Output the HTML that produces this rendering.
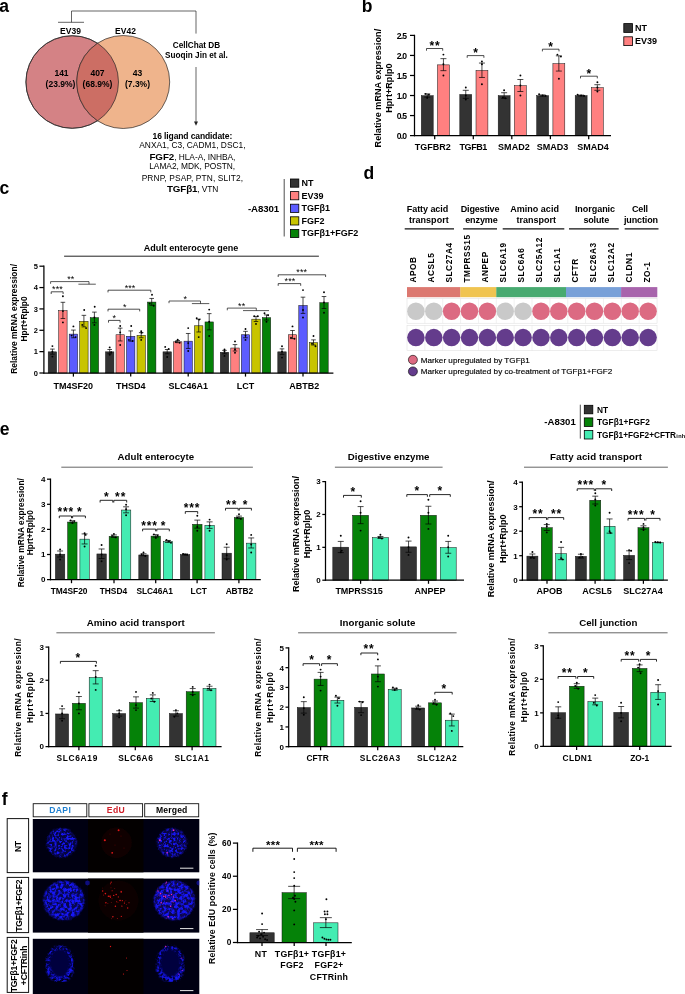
<!DOCTYPE html>
<html><head><meta charset="utf-8"><title>Figure</title>
<style>
html,body{margin:0;padding:0;background:#fff;}
svg{display:block;font-family:"Liberation Sans", Arial, Helvetica, sans-serif;will-change:transform;}
text{font-family:"Liberation Sans", Arial, Helvetica, sans-serif;}
</style></head><body>
<svg width="685" height="994" viewBox="0 0 685 994">
<rect width="685" height="994" fill="#fff"/>
<text x="-0.70" y="12.00" font-size="17.5" font-weight="bold" text-anchor="start" fill="#000" >a</text>
<circle cx="72.2" cy="82.0" r="46.30" fill="#D48285" stroke="#2a2a2a" stroke-width="0.7" />
<circle cx="123.2" cy="82" r="46.5" fill="#EFB48C" stroke="#2a2a2a" stroke-width="0.7"/>
<clipPath id="cl"><circle cx="72.2" cy="82" r="46.3"/></clipPath>
<circle cx="123.2" cy="82" r="46.5" fill="#CC6E64" stroke="#2a2a2a" stroke-width="0.7" clip-path="url(#cl)"/>
<circle cx="72.2" cy="82" r="46.3" fill="none" stroke="#2a2a2a" stroke-width="0.7"/>
<text x="70.50" y="33.60" font-size="8.5" font-weight="bold" text-anchor="middle" fill="#000" >EV39</text>
<text x="125.50" y="33.60" font-size="8.5" font-weight="bold" text-anchor="middle" fill="#000" >EV42</text>
<text x="61.50" y="76.40" font-size="8.5" font-weight="bold" text-anchor="middle" fill="#000" >141</text>
<text x="60.50" y="86.80" font-size="8.5" font-weight="bold" text-anchor="middle" fill="#000" >(23.9%)</text>
<text x="97.50" y="76.40" font-size="8.5" font-weight="bold" text-anchor="middle" fill="#000" >407</text>
<text x="97.50" y="86.80" font-size="8.5" font-weight="bold" text-anchor="middle" fill="#000" >(68.9%)</text>
<text x="137.50" y="76.40" font-size="8.5" font-weight="bold" text-anchor="middle" fill="#000" >43</text>
<text x="137.50" y="86.80" font-size="8.5" font-weight="bold" text-anchor="middle" fill="#000" >(7.3%)</text>
<polyline points="71.50,22.30 71.50,11.00 196.00,11.00 196.00,33.60" fill="none" stroke="#222" stroke-width="0.7"/>
<line x1="58.00" y1="22.30" x2="84.00" y2="22.30" stroke="#222" stroke-width="0.7" />
<text x="196.50" y="47.90" font-size="8.2" font-weight="bold" text-anchor="middle" fill="#000" >CellChat DB</text>
<text x="196.50" y="57.50" font-size="8.2" font-weight="bold" text-anchor="middle" fill="#000" >Suoqin Jin et al.</text>
<line x1="196.00" y1="67.00" x2="196.00" y2="123.00" stroke="#222" stroke-width="0.7" />
<polygon points="194,121.5 198,121.5 196,125.8" fill="#222"/>
<text x="192.40" y="139.20" font-size="8.5" font-weight="bold" text-anchor="middle" fill="#000"  textLength="79.70" lengthAdjust="spacing">16 ligand candidate:</text>
<text x="192.40" y="148.30" font-size="8.4" font-weight="normal" text-anchor="middle" fill="#000"  textLength="106.30" lengthAdjust="spacing">ANXA1, C3, CADM1, DSC1,</text>
<text x="192.4" y="159.7" font-size="8.4" text-anchor="middle" fill="#000" textLength="86" lengthAdjust="spacing"><tspan font-weight="bold" font-size="9.8">FGF2</tspan>, HLA-A, INHBA,</text>
<text x="192.20" y="169.20" font-size="8.4" font-weight="normal" text-anchor="middle" fill="#000"  textLength="86.00" lengthAdjust="spacing">LAMA2, MDK, POSTN,</text>
<text x="192.40" y="180.60" font-size="8.4" font-weight="normal" text-anchor="middle" fill="#000"  textLength="101.50" lengthAdjust="spacing">PRNP, PSAP, PTN, SLIT2,</text>
<text x="192.6" y="192" font-size="8.4" text-anchor="middle" fill="#000" textLength="51.2" lengthAdjust="spacing"><tspan font-weight="bold" font-size="9.8">TGFβ1</tspan>, VTN</text>
<text x="361.80" y="11.90" font-size="17.5" font-weight="bold" text-anchor="start" fill="#000" >b</text>
<rect x="421.30" y="95.72" width="11.90" height="39.88" fill="#333333" stroke="#111" stroke-width="0.5" />
<line x1="427.25" y1="93.92" x2="427.25" y2="97.12" stroke="#000" stroke-width="0.7" />
<line x1="424.25" y1="93.92" x2="430.25" y2="93.92" stroke="#000" stroke-width="0.7" />
<line x1="424.25" y1="97.12" x2="430.25" y2="97.12" stroke="#000" stroke-width="0.7" />
<circle cx="425.6" cy="93.9" r="0.95" />
<circle cx="428.9" cy="94.7" r="0.95" />
<circle cx="427.2" cy="97.9" r="0.95" />
<rect x="437.50" y="64.86" width="11.90" height="70.74" fill="#FF8080" stroke="#111" stroke-width="0.5" />
<line x1="443.45" y1="58.65" x2="443.45" y2="70.67" stroke="#000" stroke-width="0.7" />
<line x1="440.45" y1="58.65" x2="446.45" y2="58.65" stroke="#000" stroke-width="0.7" />
<line x1="440.45" y1="70.67" x2="446.45" y2="70.67" stroke="#000" stroke-width="0.7" />
<circle cx="443.4" cy="54.6" r="0.95" />
<circle cx="443.4" cy="64.3" r="0.95" />
<circle cx="443.4" cy="75.5" r="0.95" />
<text x="432.80" y="150.30" font-size="9" font-weight="bold" text-anchor="middle" fill="#000"  textLength="35.90" lengthAdjust="spacing">TGFBR2</text>
<line x1="434.70" y1="135.60" x2="434.70" y2="139.20" stroke="#000" stroke-width="1.25" />
<rect x="459.80" y="94.52" width="11.90" height="41.08" fill="#333333" stroke="#111" stroke-width="0.5" />
<line x1="465.75" y1="90.31" x2="465.75" y2="98.33" stroke="#000" stroke-width="0.7" />
<line x1="462.75" y1="90.31" x2="468.75" y2="90.31" stroke="#000" stroke-width="0.7" />
<line x1="462.75" y1="98.33" x2="468.75" y2="98.33" stroke="#000" stroke-width="0.7" />
<circle cx="465.8" cy="87.5" r="0.95" />
<circle cx="465.8" cy="99.5" r="0.95" />
<circle cx="465.8" cy="95.5" r="0.95" />
<rect x="476.00" y="70.47" width="11.90" height="65.13" fill="#FF8080" stroke="#111" stroke-width="0.5" />
<line x1="481.95" y1="63.06" x2="481.95" y2="77.48" stroke="#000" stroke-width="0.7" />
<line x1="478.95" y1="63.06" x2="484.95" y2="63.06" stroke="#000" stroke-width="0.7" />
<line x1="478.95" y1="77.48" x2="484.95" y2="77.48" stroke="#000" stroke-width="0.7" />
<circle cx="481.9" cy="61.5" r="0.95" />
<circle cx="481.9" cy="64.3" r="0.95" />
<circle cx="481.9" cy="84.3" r="0.95" />
<text x="473.40" y="150.30" font-size="9" font-weight="bold" text-anchor="middle" fill="#000"  textLength="27.70" lengthAdjust="spacing">TGFB1</text>
<line x1="473.30" y1="135.60" x2="473.30" y2="139.20" stroke="#000" stroke-width="1.25" />
<rect x="498.20" y="95.72" width="11.90" height="39.88" fill="#333333" stroke="#111" stroke-width="0.5" />
<line x1="504.15" y1="92.71" x2="504.15" y2="98.33" stroke="#000" stroke-width="0.7" />
<line x1="501.15" y1="92.71" x2="507.15" y2="92.71" stroke="#000" stroke-width="0.7" />
<line x1="501.15" y1="98.33" x2="507.15" y2="98.33" stroke="#000" stroke-width="0.7" />
<circle cx="504.1" cy="90.3" r="0.95" />
<circle cx="502.9" cy="97.5" r="0.95" />
<circle cx="505.3" cy="98.3" r="0.95" />
<rect x="514.40" y="85.70" width="11.90" height="49.90" fill="#FF8080" stroke="#111" stroke-width="0.5" />
<line x1="520.35" y1="79.49" x2="520.35" y2="91.51" stroke="#000" stroke-width="0.7" />
<line x1="517.35" y1="79.49" x2="523.35" y2="79.49" stroke="#000" stroke-width="0.7" />
<line x1="517.35" y1="91.51" x2="523.35" y2="91.51" stroke="#000" stroke-width="0.7" />
<circle cx="520.4" cy="75.5" r="0.95" />
<circle cx="520.4" cy="85.5" r="0.95" />
<circle cx="520.4" cy="95.5" r="0.95" />
<text x="513.90" y="150.30" font-size="9" font-weight="bold" text-anchor="middle" fill="#000"  textLength="31.90" lengthAdjust="spacing">SMAD2</text>
<line x1="511.80" y1="135.60" x2="511.80" y2="139.20" stroke="#000" stroke-width="1.25" />
<rect x="536.70" y="95.72" width="11.90" height="39.88" fill="#333333" stroke="#111" stroke-width="0.5" />
<line x1="542.65" y1="94.92" x2="542.65" y2="96.12" stroke="#000" stroke-width="0.7" />
<line x1="539.65" y1="94.92" x2="545.65" y2="94.92" stroke="#000" stroke-width="0.7" />
<line x1="539.65" y1="96.12" x2="545.65" y2="96.12" stroke="#000" stroke-width="0.7" />
<circle cx="539.1" cy="94.3" r="0.95" />
<circle cx="542.6" cy="95.5" r="0.95" />
<circle cx="545.6" cy="95.9" r="0.95" />
<rect x="552.90" y="63.66" width="11.90" height="71.94" fill="#FF8080" stroke="#111" stroke-width="0.5" />
<line x1="558.85" y1="55.84" x2="558.85" y2="71.07" stroke="#000" stroke-width="0.7" />
<line x1="555.85" y1="55.84" x2="561.85" y2="55.84" stroke="#000" stroke-width="0.7" />
<line x1="555.85" y1="71.07" x2="561.85" y2="71.07" stroke="#000" stroke-width="0.7" />
<circle cx="557.4" cy="54.6" r="0.95" />
<circle cx="560.9" cy="56.6" r="0.95" />
<circle cx="558.9" cy="78.7" r="0.95" />
<text x="552.60" y="150.30" font-size="9" font-weight="bold" text-anchor="middle" fill="#000"  textLength="31.50" lengthAdjust="spacing">SMAD3</text>
<line x1="550.40" y1="135.60" x2="550.40" y2="139.20" stroke="#000" stroke-width="1.25" />
<rect x="575.20" y="95.72" width="11.90" height="39.88" fill="#333333" stroke="#111" stroke-width="0.5" />
<line x1="581.15" y1="95.12" x2="581.15" y2="95.92" stroke="#000" stroke-width="0.7" />
<line x1="578.15" y1="95.12" x2="584.15" y2="95.12" stroke="#000" stroke-width="0.7" />
<line x1="578.15" y1="95.92" x2="584.15" y2="95.92" stroke="#000" stroke-width="0.7" />
<circle cx="577.6" cy="94.7" r="0.95" />
<circle cx="581.1" cy="95.5" r="0.95" />
<circle cx="584.1" cy="95.9" r="0.95" />
<rect x="591.40" y="87.70" width="11.90" height="47.90" fill="#FF8080" stroke="#111" stroke-width="0.5" />
<line x1="597.35" y1="84.70" x2="597.35" y2="90.31" stroke="#000" stroke-width="0.7" />
<line x1="594.35" y1="84.70" x2="600.35" y2="84.70" stroke="#000" stroke-width="0.7" />
<line x1="594.35" y1="90.31" x2="600.35" y2="90.31" stroke="#000" stroke-width="0.7" />
<circle cx="597.4" cy="82.3" r="0.95" />
<circle cx="597.4" cy="87.5" r="0.95" />
<circle cx="597.4" cy="91.5" r="0.95" />
<text x="593.00" y="150.30" font-size="9" font-weight="bold" text-anchor="middle" fill="#000"  textLength="31.30" lengthAdjust="spacing">SMAD4</text>
<line x1="588.70" y1="135.60" x2="588.70" y2="139.20" stroke="#000" stroke-width="1.25" />
<line x1="414.50" y1="34.77" x2="414.50" y2="136.22" stroke="#000" stroke-width="1.25" />
<line x1="413.88" y1="135.60" x2="611.00" y2="135.60" stroke="#000" stroke-width="1.25" />
<line x1="410.00" y1="135.60" x2="414.50" y2="135.60" stroke="#000" stroke-width="1.25" />
<text x="406.35" y="138.70" font-size="8.6" font-weight="bold" text-anchor="end" fill="#000"  letter-spacing="-0.75">0.0</text>
<line x1="410.00" y1="115.56" x2="414.50" y2="115.56" stroke="#000" stroke-width="1.25" />
<text x="406.35" y="118.66" font-size="8.6" font-weight="bold" text-anchor="end" fill="#000"  letter-spacing="-0.75">0.5</text>
<line x1="410.00" y1="95.52" x2="414.50" y2="95.52" stroke="#000" stroke-width="1.25" />
<text x="406.35" y="98.62" font-size="8.6" font-weight="bold" text-anchor="end" fill="#000"  letter-spacing="-0.75">1.0</text>
<line x1="410.00" y1="75.48" x2="414.50" y2="75.48" stroke="#000" stroke-width="1.25" />
<text x="406.35" y="78.58" font-size="8.6" font-weight="bold" text-anchor="end" fill="#000"  letter-spacing="-0.75">1.5</text>
<line x1="410.00" y1="55.44" x2="414.50" y2="55.44" stroke="#000" stroke-width="1.25" />
<text x="406.35" y="58.54" font-size="8.6" font-weight="bold" text-anchor="end" fill="#000"  letter-spacing="-0.75">2.0</text>
<line x1="410.00" y1="35.40" x2="414.50" y2="35.40" stroke="#000" stroke-width="1.25" />
<text x="406.35" y="38.50" font-size="8.6" font-weight="bold" text-anchor="end" fill="#000"  letter-spacing="-0.75">2.5</text>
<text transform="translate(381.20,88.10) rotate(-90)" font-size="9" font-weight="bold" text-anchor="middle" fill="#000" textLength="118.60" lengthAdjust="spacing">Relative mRNA expression/</text>
<text transform="translate(392.20,88.10) rotate(-90)" font-size="9" font-weight="bold" text-anchor="middle" fill="#000" textLength="49.30" lengthAdjust="spacing">Hprt+Rplp0</text>
<polyline points="426.50,50.70 426.50,48.50 442.70,48.50 442.70,50.70" fill="none" stroke="#000" stroke-width="0.7"/>
<text x="434.95" y="50.00" font-size="12" font-weight="bold" text-anchor="middle" fill="#000"  letter-spacing="0.7">**</text>
<polyline points="467.20,57.80 467.20,55.60 483.90,55.60 483.90,57.80" fill="none" stroke="#000" stroke-width="0.7"/>
<text x="475.90" y="57.10" font-size="12" font-weight="bold" text-anchor="middle" fill="#000"  letter-spacing="0.7">*</text>
<polyline points="542.40,51.40 542.40,49.20 559.00,49.20 559.00,51.40" fill="none" stroke="#000" stroke-width="0.7"/>
<text x="551.05" y="50.70" font-size="12" font-weight="bold" text-anchor="middle" fill="#000"  letter-spacing="0.7">*</text>
<polyline points="580.50,78.40 580.50,76.20 597.30,76.20 597.30,78.40" fill="none" stroke="#000" stroke-width="0.7"/>
<text x="589.25" y="77.70" font-size="12" font-weight="bold" text-anchor="middle" fill="#000"  letter-spacing="0.7">*</text>
<rect x="623.80" y="23.60" width="8.80" height="8.80" fill="#333333" stroke="#000" stroke-width="0.8" />
<rect x="623.80" y="36.80" width="8.80" height="8.80" fill="#FF8080" stroke="#000" stroke-width="0.8" />
<text x="635.00" y="30.90" font-size="9" font-weight="bold" text-anchor="start" fill="#000" >NT</text>
<text x="635.00" y="44.00" font-size="9" font-weight="bold" text-anchor="start" fill="#000" >EV39</text>
<text x="-0.50" y="194.30" font-size="17.5" font-weight="bold" text-anchor="start" fill="#000" >c</text>
<rect x="48.20" y="351.84" width="8.40" height="21.16" fill="#333333" stroke="#111" stroke-width="0.5" />
<line x1="52.40" y1="349.08" x2="52.40" y2="354.20" stroke="#000" stroke-width="0.7" />
<line x1="50.10" y1="349.08" x2="54.70" y2="349.08" stroke="#000" stroke-width="0.7" />
<line x1="50.10" y1="354.20" x2="54.70" y2="354.20" stroke="#000" stroke-width="0.7" />
<circle cx="52.4" cy="346.1" r="0.95" />
<circle cx="52.4" cy="356.6" r="0.95" />
<circle cx="52.4" cy="351.6" r="0.95" />
<rect x="58.70" y="310.62" width="8.40" height="62.38" fill="#FF8080" stroke="#111" stroke-width="0.5" />
<line x1="62.90" y1="302.30" x2="62.90" y2="318.53" stroke="#000" stroke-width="0.7" />
<line x1="60.60" y1="302.30" x2="65.20" y2="302.30" stroke="#000" stroke-width="0.7" />
<line x1="60.60" y1="318.53" x2="65.20" y2="318.53" stroke="#000" stroke-width="0.7" />
<circle cx="62.9" cy="296.3" r="0.95" />
<circle cx="62.9" cy="311.1" r="0.95" />
<circle cx="62.9" cy="322.4" r="0.95" />
<rect x="69.20" y="334.11" width="8.40" height="38.89" fill="#5C5CFF" stroke="#111" stroke-width="0.5" />
<line x1="73.40" y1="330.07" x2="73.40" y2="337.76" stroke="#000" stroke-width="0.7" />
<line x1="71.10" y1="330.07" x2="75.70" y2="330.07" stroke="#000" stroke-width="0.7" />
<line x1="71.10" y1="337.76" x2="75.70" y2="337.76" stroke="#000" stroke-width="0.7" />
<circle cx="73.4" cy="326.4" r="0.95" />
<circle cx="71.6" cy="335.6" r="0.95" />
<circle cx="75.6" cy="337.1" r="0.95" />
<rect x="79.70" y="321.30" width="8.40" height="51.70" fill="#C8C400" stroke="#111" stroke-width="0.5" />
<line x1="83.90" y1="315.33" x2="83.90" y2="326.86" stroke="#000" stroke-width="0.7" />
<line x1="81.60" y1="315.33" x2="86.20" y2="315.33" stroke="#000" stroke-width="0.7" />
<line x1="81.60" y1="326.86" x2="86.20" y2="326.86" stroke="#000" stroke-width="0.7" />
<circle cx="84.2" cy="310.0" r="0.95" />
<circle cx="82.3" cy="324.9" r="0.95" />
<circle cx="86.1" cy="328.1" r="0.95" />
<rect x="90.20" y="317.66" width="8.40" height="55.34" fill="#058208" stroke="#111" stroke-width="0.5" />
<line x1="94.40" y1="312.12" x2="94.40" y2="322.80" stroke="#000" stroke-width="0.7" />
<line x1="92.10" y1="312.12" x2="96.70" y2="312.12" stroke="#000" stroke-width="0.7" />
<line x1="92.10" y1="322.80" x2="96.70" y2="322.80" stroke="#000" stroke-width="0.7" />
<circle cx="94.7" cy="306.8" r="0.95" />
<circle cx="94.4" cy="317.5" r="0.95" />
<circle cx="94.4" cy="324.9" r="0.95" />
<text x="73.30" y="388.70" font-size="9" font-weight="bold" text-anchor="middle" fill="#000"  textLength="39.40" lengthAdjust="spacing">TM4SF20</text>
<line x1="73.40" y1="373.00" x2="73.40" y2="376.60" stroke="#000" stroke-width="1.25" />
<rect x="105.50" y="351.84" width="8.40" height="21.16" fill="#333333" stroke="#111" stroke-width="0.5" />
<line x1="109.70" y1="349.50" x2="109.70" y2="353.78" stroke="#000" stroke-width="0.7" />
<line x1="107.40" y1="349.50" x2="112.00" y2="349.50" stroke="#000" stroke-width="0.7" />
<line x1="107.40" y1="353.78" x2="112.00" y2="353.78" stroke="#000" stroke-width="0.7" />
<circle cx="109.7" cy="347.4" r="0.95" />
<circle cx="109.7" cy="354.8" r="0.95" />
<circle cx="111.2" cy="352.3" r="0.95" />
<rect x="116.00" y="334.75" width="8.40" height="38.25" fill="#FF8080" stroke="#111" stroke-width="0.5" />
<line x1="120.20" y1="328.14" x2="120.20" y2="340.96" stroke="#000" stroke-width="0.7" />
<line x1="117.90" y1="328.14" x2="122.50" y2="328.14" stroke="#000" stroke-width="0.7" />
<line x1="117.90" y1="340.96" x2="122.50" y2="340.96" stroke="#000" stroke-width="0.7" />
<circle cx="120.2" cy="326.0" r="0.95" />
<circle cx="120.2" cy="332.4" r="0.95" />
<circle cx="120.2" cy="345.0" r="0.95" />
<rect x="126.50" y="336.25" width="8.40" height="36.75" fill="#5C5CFF" stroke="#111" stroke-width="0.5" />
<line x1="130.70" y1="330.92" x2="130.70" y2="341.17" stroke="#000" stroke-width="0.7" />
<line x1="128.40" y1="330.92" x2="133.00" y2="330.92" stroke="#000" stroke-width="0.7" />
<line x1="128.40" y1="341.17" x2="133.00" y2="341.17" stroke="#000" stroke-width="0.7" />
<circle cx="131.2" cy="326.0" r="0.95" />
<circle cx="128.9" cy="339.9" r="0.95" />
<circle cx="132.7" cy="341.0" r="0.95" />
<rect x="137.00" y="335.39" width="8.40" height="37.61" fill="#C8C400" stroke="#111" stroke-width="0.5" />
<line x1="141.20" y1="332.63" x2="141.20" y2="337.76" stroke="#000" stroke-width="0.7" />
<line x1="138.90" y1="332.63" x2="143.50" y2="332.63" stroke="#000" stroke-width="0.7" />
<line x1="138.90" y1="337.76" x2="143.50" y2="337.76" stroke="#000" stroke-width="0.7" />
<circle cx="141.2" cy="331.3" r="0.95" />
<circle cx="141.7" cy="332.8" r="0.95" />
<circle cx="141.2" cy="339.9" r="0.95" />
<rect x="147.50" y="302.07" width="8.40" height="70.93" fill="#058208" stroke="#111" stroke-width="0.5" />
<line x1="151.70" y1="298.45" x2="151.70" y2="305.29" stroke="#000" stroke-width="0.7" />
<line x1="149.40" y1="298.45" x2="154.00" y2="298.45" stroke="#000" stroke-width="0.7" />
<line x1="149.40" y1="305.29" x2="154.00" y2="305.29" stroke="#000" stroke-width="0.7" />
<circle cx="152.0" cy="294.8" r="0.95" />
<circle cx="149.7" cy="303.6" r="0.95" />
<circle cx="153.7" cy="305.7" r="0.95" />
<text x="130.70" y="388.70" font-size="9" font-weight="bold" text-anchor="middle" fill="#000" >THSD4</text>
<line x1="130.70" y1="373.00" x2="130.70" y2="376.60" stroke="#000" stroke-width="1.25" />
<rect x="163.00" y="351.84" width="8.40" height="21.16" fill="#333333" stroke="#111" stroke-width="0.5" />
<line x1="167.20" y1="349.50" x2="167.20" y2="353.78" stroke="#000" stroke-width="0.7" />
<line x1="164.90" y1="349.50" x2="169.50" y2="349.50" stroke="#000" stroke-width="0.7" />
<line x1="164.90" y1="353.78" x2="169.50" y2="353.78" stroke="#000" stroke-width="0.7" />
<circle cx="165.2" cy="346.9" r="0.95" />
<circle cx="168.7" cy="348.9" r="0.95" />
<circle cx="167.2" cy="357.0" r="0.95" />
<rect x="173.50" y="341.80" width="8.40" height="31.20" fill="#FF8080" stroke="#111" stroke-width="0.5" />
<line x1="177.70" y1="340.53" x2="177.70" y2="342.67" stroke="#000" stroke-width="0.7" />
<line x1="175.40" y1="340.53" x2="180.00" y2="340.53" stroke="#000" stroke-width="0.7" />
<line x1="175.40" y1="342.67" x2="180.00" y2="342.67" stroke="#000" stroke-width="0.7" />
<circle cx="177.7" cy="339.7" r="0.95" />
<circle cx="175.9" cy="342.0" r="0.95" />
<circle cx="179.7" cy="342.7" r="0.95" />
<rect x="184.00" y="341.16" width="8.40" height="31.84" fill="#5C5CFF" stroke="#111" stroke-width="0.5" />
<line x1="188.20" y1="333.48" x2="188.20" y2="348.44" stroke="#000" stroke-width="0.7" />
<line x1="185.90" y1="333.48" x2="190.50" y2="333.48" stroke="#000" stroke-width="0.7" />
<line x1="185.90" y1="348.44" x2="190.50" y2="348.44" stroke="#000" stroke-width="0.7" />
<circle cx="188.2" cy="328.1" r="0.95" />
<circle cx="188.2" cy="343.1" r="0.95" />
<circle cx="188.2" cy="351.0" r="0.95" />
<rect x="194.50" y="325.78" width="8.40" height="47.22" fill="#C8C400" stroke="#111" stroke-width="0.5" />
<line x1="198.70" y1="319.17" x2="198.70" y2="331.99" stroke="#000" stroke-width="0.7" />
<line x1="196.40" y1="319.17" x2="201.00" y2="319.17" stroke="#000" stroke-width="0.7" />
<line x1="196.40" y1="331.99" x2="201.00" y2="331.99" stroke="#000" stroke-width="0.7" />
<circle cx="196.7" cy="318.3" r="0.95" />
<circle cx="199.2" cy="319.6" r="0.95" />
<circle cx="198.7" cy="337.1" r="0.95" />
<rect x="205.00" y="321.94" width="8.40" height="51.06" fill="#058208" stroke="#111" stroke-width="0.5" />
<line x1="209.20" y1="313.62" x2="209.20" y2="329.85" stroke="#000" stroke-width="0.7" />
<line x1="206.90" y1="313.62" x2="211.50" y2="313.62" stroke="#000" stroke-width="0.7" />
<line x1="206.90" y1="329.85" x2="211.50" y2="329.85" stroke="#000" stroke-width="0.7" />
<circle cx="209.2" cy="309.6" r="0.95" />
<circle cx="209.2" cy="321.7" r="0.95" />
<circle cx="209.2" cy="336.0" r="0.95" />
<text x="188.20" y="388.70" font-size="9" font-weight="bold" text-anchor="middle" fill="#000" >SLC46A1</text>
<line x1="188.20" y1="373.00" x2="188.20" y2="376.60" stroke="#000" stroke-width="1.25" />
<rect x="220.30" y="352.27" width="8.40" height="20.73" fill="#333333" stroke="#111" stroke-width="0.5" />
<line x1="224.50" y1="350.36" x2="224.50" y2="353.78" stroke="#000" stroke-width="0.7" />
<line x1="222.20" y1="350.36" x2="226.80" y2="350.36" stroke="#000" stroke-width="0.7" />
<line x1="222.20" y1="353.78" x2="226.80" y2="353.78" stroke="#000" stroke-width="0.7" />
<circle cx="224.5" cy="349.5" r="0.95" />
<circle cx="224.5" cy="355.9" r="0.95" />
<circle cx="224.5" cy="351.2" r="0.95" />
<rect x="230.80" y="348.00" width="8.40" height="25.00" fill="#FF8080" stroke="#111" stroke-width="0.5" />
<line x1="235.00" y1="344.59" x2="235.00" y2="351.00" stroke="#000" stroke-width="0.7" />
<line x1="232.70" y1="344.59" x2="237.30" y2="344.59" stroke="#000" stroke-width="0.7" />
<line x1="232.70" y1="351.00" x2="237.30" y2="351.00" stroke="#000" stroke-width="0.7" />
<circle cx="235.0" cy="341.4" r="0.95" />
<circle cx="235.0" cy="349.5" r="0.95" />
<circle cx="235.0" cy="352.7" r="0.95" />
<rect x="241.30" y="334.75" width="8.40" height="38.25" fill="#5C5CFF" stroke="#111" stroke-width="0.5" />
<line x1="245.50" y1="331.35" x2="245.50" y2="337.76" stroke="#000" stroke-width="0.7" />
<line x1="243.20" y1="331.35" x2="247.80" y2="331.35" stroke="#000" stroke-width="0.7" />
<line x1="243.20" y1="337.76" x2="247.80" y2="337.76" stroke="#000" stroke-width="0.7" />
<circle cx="245.5" cy="329.0" r="0.95" />
<circle cx="245.5" cy="335.6" r="0.95" />
<circle cx="245.5" cy="339.9" r="0.95" />
<rect x="251.80" y="319.16" width="8.40" height="53.84" fill="#C8C400" stroke="#111" stroke-width="0.5" />
<line x1="256.00" y1="316.40" x2="256.00" y2="321.52" stroke="#000" stroke-width="0.7" />
<line x1="253.70" y1="316.40" x2="258.30" y2="316.40" stroke="#000" stroke-width="0.7" />
<line x1="253.70" y1="321.52" x2="258.30" y2="321.52" stroke="#000" stroke-width="0.7" />
<circle cx="254.2" cy="316.2" r="0.95" />
<circle cx="257.8" cy="316.2" r="0.95" />
<circle cx="256.0" cy="323.9" r="0.95" />
<rect x="262.30" y="317.66" width="8.40" height="55.34" fill="#058208" stroke="#111" stroke-width="0.5" />
<line x1="266.50" y1="314.90" x2="266.50" y2="320.03" stroke="#000" stroke-width="0.7" />
<line x1="264.20" y1="314.90" x2="268.80" y2="314.90" stroke="#000" stroke-width="0.7" />
<line x1="264.20" y1="320.03" x2="268.80" y2="320.03" stroke="#000" stroke-width="0.7" />
<circle cx="264.5" cy="313.2" r="0.95" />
<circle cx="268.1" cy="315.3" r="0.95" />
<circle cx="266.5" cy="321.7" r="0.95" />
<text x="245.50" y="388.70" font-size="9" font-weight="bold" text-anchor="middle" fill="#000" >LCT</text>
<line x1="245.50" y1="373.00" x2="245.50" y2="376.60" stroke="#000" stroke-width="1.25" />
<rect x="277.80" y="351.84" width="8.40" height="21.16" fill="#333333" stroke="#111" stroke-width="0.5" />
<line x1="282.00" y1="348.86" x2="282.00" y2="354.42" stroke="#000" stroke-width="0.7" />
<line x1="279.70" y1="348.86" x2="284.30" y2="348.86" stroke="#000" stroke-width="0.7" />
<line x1="279.70" y1="354.42" x2="284.30" y2="354.42" stroke="#000" stroke-width="0.7" />
<circle cx="282.0" cy="346.3" r="0.95" />
<circle cx="282.0" cy="357.6" r="0.95" />
<circle cx="282.0" cy="351.6" r="0.95" />
<rect x="288.30" y="334.75" width="8.40" height="38.25" fill="#FF8080" stroke="#111" stroke-width="0.5" />
<line x1="292.50" y1="330.49" x2="292.50" y2="338.61" stroke="#000" stroke-width="0.7" />
<line x1="290.20" y1="330.49" x2="294.80" y2="330.49" stroke="#000" stroke-width="0.7" />
<line x1="290.20" y1="338.61" x2="294.80" y2="338.61" stroke="#000" stroke-width="0.7" />
<circle cx="292.5" cy="326.4" r="0.95" />
<circle cx="291.0" cy="337.8" r="0.95" />
<circle cx="294.5" cy="338.8" r="0.95" />
<rect x="298.80" y="305.49" width="8.40" height="67.51" fill="#5C5CFF" stroke="#111" stroke-width="0.5" />
<line x1="303.00" y1="297.17" x2="303.00" y2="313.41" stroke="#000" stroke-width="0.7" />
<line x1="300.70" y1="297.17" x2="305.30" y2="297.17" stroke="#000" stroke-width="0.7" />
<line x1="300.70" y1="313.41" x2="305.30" y2="313.41" stroke="#000" stroke-width="0.7" />
<circle cx="303.0" cy="290.1" r="0.95" />
<circle cx="303.0" cy="310.0" r="0.95" />
<circle cx="303.0" cy="317.5" r="0.95" />
<rect x="309.30" y="342.66" width="8.40" height="30.34" fill="#C8C400" stroke="#111" stroke-width="0.5" />
<line x1="313.50" y1="339.89" x2="313.50" y2="345.02" stroke="#000" stroke-width="0.7" />
<line x1="311.20" y1="339.89" x2="315.80" y2="339.89" stroke="#000" stroke-width="0.7" />
<line x1="311.20" y1="345.02" x2="315.80" y2="345.02" stroke="#000" stroke-width="0.7" />
<circle cx="313.5" cy="336.0" r="0.95" />
<circle cx="312.0" cy="343.7" r="0.95" />
<circle cx="315.5" cy="346.3" r="0.95" />
<rect x="319.80" y="302.71" width="8.40" height="70.29" fill="#058208" stroke="#111" stroke-width="0.5" />
<line x1="324.00" y1="296.53" x2="324.00" y2="308.49" stroke="#000" stroke-width="0.7" />
<line x1="321.70" y1="296.53" x2="326.30" y2="296.53" stroke="#000" stroke-width="0.7" />
<line x1="321.70" y1="308.49" x2="326.30" y2="308.49" stroke="#000" stroke-width="0.7" />
<circle cx="324.0" cy="292.3" r="0.95" />
<circle cx="324.0" cy="302.5" r="0.95" />
<circle cx="324.0" cy="312.8" r="0.95" />
<text x="304.20" y="388.70" font-size="9" font-weight="bold" text-anchor="middle" fill="#000" >ABTB2</text>
<line x1="303.00" y1="373.00" x2="303.00" y2="376.60" stroke="#000" stroke-width="1.25" />
<line x1="43.90" y1="265.57" x2="43.90" y2="373.62" stroke="#000" stroke-width="1.25" />
<line x1="43.27" y1="373.00" x2="333.40" y2="373.00" stroke="#000" stroke-width="1.25" />
<line x1="39.40" y1="373.00" x2="43.90" y2="373.00" stroke="#000" stroke-width="1.25" />
<text x="37.90" y="375.70" font-size="7.5" font-weight="bold" text-anchor="end" fill="#000" >0</text>
<line x1="39.40" y1="351.64" x2="43.90" y2="351.64" stroke="#000" stroke-width="1.25" />
<text x="37.90" y="354.34" font-size="7.5" font-weight="bold" text-anchor="end" fill="#000" >1</text>
<line x1="39.40" y1="330.28" x2="43.90" y2="330.28" stroke="#000" stroke-width="1.25" />
<text x="37.90" y="332.98" font-size="7.5" font-weight="bold" text-anchor="end" fill="#000" >2</text>
<line x1="39.40" y1="308.92" x2="43.90" y2="308.92" stroke="#000" stroke-width="1.25" />
<text x="37.90" y="311.62" font-size="7.5" font-weight="bold" text-anchor="end" fill="#000" >3</text>
<line x1="39.40" y1="287.56" x2="43.90" y2="287.56" stroke="#000" stroke-width="1.25" />
<text x="37.90" y="290.26" font-size="7.5" font-weight="bold" text-anchor="end" fill="#000" >4</text>
<line x1="39.40" y1="266.20" x2="43.90" y2="266.20" stroke="#000" stroke-width="1.25" />
<text x="37.90" y="268.90" font-size="7.5" font-weight="bold" text-anchor="end" fill="#000" >5</text>
<text transform="translate(16.90,318.90) rotate(-90)" font-size="8.45" font-weight="bold" text-anchor="middle" fill="#000" textLength="109.90" lengthAdjust="spacing">Relative mRNA expression/</text>
<text transform="translate(26.60,318.90) rotate(-90)" font-size="8.45" font-weight="bold" text-anchor="middle" fill="#000" textLength="45.10" lengthAdjust="spacing">Hprt+Rplp0</text>
<text x="191.00" y="251.30" font-size="9" font-weight="bold" text-anchor="middle" fill="#000"  textLength="94.50" lengthAdjust="spacing">Adult enterocyte gene</text>
<line x1="64.10" y1="256.20" x2="318.90" y2="256.20" stroke="#222" stroke-width="1.0" />
<polyline points="50.60,283.80 50.60,281.60 89.00,281.60 89.00,284.20" fill="none" stroke="#111" stroke-width="0.7"/>
<line x1="78.40" y1="284.20" x2="95.80" y2="284.20" stroke="#111" stroke-width="0.7" />
<text x="70.75" y="282.10" font-size="9" font-weight="normal" text-anchor="middle" fill="#000"  letter-spacing="0.1">**</text>
<polyline points="51.20,294.00 51.20,291.80 63.10,291.80 63.10,294.00" fill="none" stroke="#000" stroke-width="0.7"/>
<text x="57.45" y="292.30" font-size="9" font-weight="normal" text-anchor="middle" fill="#000"  letter-spacing="0.1">***</text>
<polyline points="108.00,292.40 108.00,290.20 150.80,290.20 150.80,292.40" fill="none" stroke="#000" stroke-width="0.7"/>
<text x="130.05" y="290.70" font-size="9" font-weight="normal" text-anchor="middle" fill="#000"  letter-spacing="0.1">***</text>
<polyline points="108.00,311.40 108.00,309.20 139.70,309.20 139.70,311.40" fill="none" stroke="#000" stroke-width="0.7"/>
<text x="124.85" y="309.70" font-size="9" font-weight="normal" text-anchor="middle" fill="#000"  letter-spacing="0.1">*</text>
<polyline points="108.50,322.60 108.50,320.40 120.10,320.40 120.10,322.60" fill="none" stroke="#000" stroke-width="0.7"/>
<text x="114.25" y="320.90" font-size="9" font-weight="normal" text-anchor="middle" fill="#000"  letter-spacing="0.1">*</text>
<polyline points="169.00,303.20 169.00,301.00 200.50,301.00 200.50,303.60" fill="none" stroke="#111" stroke-width="0.7"/>
<line x1="191.90" y1="303.60" x2="209.30" y2="303.60" stroke="#111" stroke-width="0.7" />
<text x="185.25" y="301.50" font-size="9" font-weight="normal" text-anchor="middle" fill="#000"  letter-spacing="0.1">*</text>
<polyline points="227.30,310.30 227.30,308.10 256.30,308.10 256.30,310.60" fill="none" stroke="#111" stroke-width="0.7"/>
<line x1="243.00" y1="310.60" x2="269.00" y2="310.60" stroke="#111" stroke-width="0.7" />
<text x="241.65" y="308.60" font-size="9" font-weight="normal" text-anchor="middle" fill="#000"  letter-spacing="0.1">**</text>
<polyline points="278.20,277.00 278.20,274.80 325.60,274.80 325.60,277.00" fill="none" stroke="#000" stroke-width="0.7"/>
<text x="301.75" y="275.30" font-size="9" font-weight="normal" text-anchor="middle" fill="#000"  letter-spacing="0.1">***</text>
<polyline points="278.20,285.80 278.20,283.60 300.70,283.60 300.70,285.80" fill="none" stroke="#000" stroke-width="0.7"/>
<text x="289.95" y="284.10" font-size="9" font-weight="normal" text-anchor="middle" fill="#000"  letter-spacing="0.1">***</text>
<rect x="290.40" y="179.00" width="8.40" height="8.20" fill="#333333" stroke="#000" stroke-width="0.8" />
<text x="301.60" y="185.90" font-size="9" font-weight="bold" text-anchor="start" fill="#000" >NT</text>
<rect x="290.40" y="191.60" width="8.40" height="8.20" fill="#FF8080" stroke="#000" stroke-width="0.8" />
<text x="301.60" y="198.50" font-size="9" font-weight="bold" text-anchor="start" fill="#000" >EV39</text>
<rect x="290.40" y="204.20" width="8.40" height="8.20" fill="#5C5CFF" stroke="#000" stroke-width="0.8" />
<text x="301.60" y="211.10" font-size="9" font-weight="bold" text-anchor="start" fill="#000" >TGFβ1</text>
<rect x="290.40" y="216.80" width="8.40" height="8.20" fill="#C8C400" stroke="#000" stroke-width="0.8" />
<text x="301.60" y="223.70" font-size="9" font-weight="bold" text-anchor="start" fill="#000" >FGF2</text>
<rect x="290.40" y="229.40" width="8.40" height="8.20" fill="#058208" stroke="#000" stroke-width="0.8" />
<text x="301.60" y="236.30" font-size="9" font-weight="bold" text-anchor="start" fill="#000" >TGFβ1+FGF2</text>
<line x1="284.20" y1="179.00" x2="284.20" y2="236.50" stroke="#222" stroke-width="0.8" />
<text x="279.20" y="212.20" font-size="9.7" font-weight="bold" text-anchor="end" fill="#000"  textLength="31.30" lengthAdjust="spacing">-A8301</text>
<text x="363.50" y="178.60" font-size="17.5" font-weight="bold" text-anchor="start" fill="#000" >d</text>
<text x="427.50" y="211.50" font-size="9" font-weight="bold" text-anchor="middle" fill="#000"  textLength="41.50" lengthAdjust="spacing">Fatty acid</text>
<text x="428.80" y="222.50" font-size="9" font-weight="bold" text-anchor="middle" fill="#000"  textLength="39.80" lengthAdjust="spacing">transport</text>
<line x1="404.70" y1="228.90" x2="454.00" y2="228.90" stroke="#111" stroke-width="1.2" />
<text x="480.10" y="211.50" font-size="9" font-weight="bold" text-anchor="middle" fill="#000"  textLength="38.70" lengthAdjust="spacing">Digestive</text>
<text x="481.50" y="222.50" font-size="9" font-weight="bold" text-anchor="middle" fill="#000"  textLength="32.60" lengthAdjust="spacing">enzyme</text>
<line x1="463.10" y1="228.90" x2="497.00" y2="228.90" stroke="#111" stroke-width="1.2" />
<text x="534.60" y="211.50" font-size="9" font-weight="bold" text-anchor="middle" fill="#000"  textLength="48.60" lengthAdjust="spacing">Amino acid</text>
<text x="536.30" y="222.50" font-size="9" font-weight="bold" text-anchor="middle" fill="#000"  textLength="39.50" lengthAdjust="spacing">transport</text>
<line x1="502.70" y1="228.90" x2="564.30" y2="228.90" stroke="#111" stroke-width="1.2" />
<text x="595.00" y="211.50" font-size="9" font-weight="bold" text-anchor="middle" fill="#000"  textLength="40.20" lengthAdjust="spacing">Inorganic</text>
<text x="596.30" y="222.50" font-size="9" font-weight="bold" text-anchor="middle" fill="#000"  textLength="25.80" lengthAdjust="spacing">solute</text>
<line x1="569.00" y1="228.90" x2="618.70" y2="228.90" stroke="#111" stroke-width="1.2" />
<text x="640.00" y="211.50" font-size="9" font-weight="bold" text-anchor="middle" fill="#000"  textLength="15.90" lengthAdjust="spacing">Cell</text>
<text x="641.00" y="222.50" font-size="9" font-weight="bold" text-anchor="middle" fill="#000"  textLength="34.10" lengthAdjust="spacing">junction</text>
<line x1="624.70" y1="228.90" x2="658.50" y2="228.90" stroke="#111" stroke-width="1.2" />
<text transform="translate(415.90,282.60) rotate(-90)" font-size="8.3" font-weight="bold" text-anchor="start" fill="#000" letter-spacing="0.55">APOB</text>
<text transform="translate(433.90,282.60) rotate(-90)" font-size="8.3" font-weight="bold" text-anchor="start" fill="#000" letter-spacing="0.55">ACSL5</text>
<text transform="translate(451.90,282.60) rotate(-90)" font-size="8.3" font-weight="bold" text-anchor="start" fill="#000" letter-spacing="0.55">SLC27A4</text>
<text transform="translate(469.90,282.60) rotate(-90)" font-size="8.3" font-weight="bold" text-anchor="start" fill="#000" letter-spacing="0.55">TMPRSS15</text>
<text transform="translate(487.90,282.60) rotate(-90)" font-size="8.3" font-weight="bold" text-anchor="start" fill="#000" letter-spacing="0.55">ANPEP</text>
<text transform="translate(505.90,282.60) rotate(-90)" font-size="8.3" font-weight="bold" text-anchor="start" fill="#000" letter-spacing="0.55">SLC6A19</text>
<text transform="translate(523.90,282.60) rotate(-90)" font-size="8.3" font-weight="bold" text-anchor="start" fill="#000" letter-spacing="0.55">SLC6A6</text>
<text transform="translate(541.90,282.60) rotate(-90)" font-size="8.3" font-weight="bold" text-anchor="start" fill="#000" letter-spacing="0.55">SLC25A12</text>
<text transform="translate(559.90,282.60) rotate(-90)" font-size="8.3" font-weight="bold" text-anchor="start" fill="#000" letter-spacing="0.55">SLC1A1</text>
<text transform="translate(577.90,282.60) rotate(-90)" font-size="8.3" font-weight="bold" text-anchor="start" fill="#000" letter-spacing="0.55">CFTR</text>
<text transform="translate(595.90,282.60) rotate(-90)" font-size="8.3" font-weight="bold" text-anchor="start" fill="#000" letter-spacing="0.55">SLC26A3</text>
<text transform="translate(613.90,282.60) rotate(-90)" font-size="8.3" font-weight="bold" text-anchor="start" fill="#000" letter-spacing="0.55">SLC12A2</text>
<text transform="translate(631.90,282.60) rotate(-90)" font-size="8.3" font-weight="bold" text-anchor="start" fill="#000" letter-spacing="0.55">CLDN1</text>
<text transform="translate(649.90,282.60) rotate(-90)" font-size="8.3" font-weight="bold" text-anchor="start" fill="#000" letter-spacing="0.55">ZO-1</text>
<rect x="407.00" y="287.10" width="53.50" height="10.10" fill="#DC7870" />
<rect x="460.30" y="287.10" width="36.20" height="10.10" fill="#F0C450" />
<rect x="496.30" y="287.10" width="69.90" height="10.10" fill="#48AA70" />
<rect x="566.00" y="287.10" width="55.30" height="10.10" fill="#78A0D8" />
<rect x="621.10" y="287.10" width="36.20" height="10.10" fill="#A864AC" />
<rect x="407.00" y="298.50" width="250.04" height="24.70" fill="none" stroke="#dcdcdc" stroke-width="0.5" />
<line x1="424.86" y1="298.50" x2="424.86" y2="323.20" stroke="#e2e2e2" stroke-width="0.5" />
<line x1="442.72" y1="298.50" x2="442.72" y2="323.20" stroke="#e2e2e2" stroke-width="0.5" />
<line x1="460.58" y1="298.50" x2="460.58" y2="323.20" stroke="#e2e2e2" stroke-width="0.5" />
<line x1="478.44" y1="298.50" x2="478.44" y2="323.20" stroke="#e2e2e2" stroke-width="0.5" />
<line x1="496.30" y1="298.50" x2="496.30" y2="323.20" stroke="#e2e2e2" stroke-width="0.5" />
<line x1="514.16" y1="298.50" x2="514.16" y2="323.20" stroke="#e2e2e2" stroke-width="0.5" />
<line x1="532.02" y1="298.50" x2="532.02" y2="323.20" stroke="#e2e2e2" stroke-width="0.5" />
<line x1="549.88" y1="298.50" x2="549.88" y2="323.20" stroke="#e2e2e2" stroke-width="0.5" />
<line x1="567.74" y1="298.50" x2="567.74" y2="323.20" stroke="#e2e2e2" stroke-width="0.5" />
<line x1="585.60" y1="298.50" x2="585.60" y2="323.20" stroke="#e2e2e2" stroke-width="0.5" />
<line x1="603.46" y1="298.50" x2="603.46" y2="323.20" stroke="#e2e2e2" stroke-width="0.5" />
<line x1="621.32" y1="298.50" x2="621.32" y2="323.20" stroke="#e2e2e2" stroke-width="0.5" />
<line x1="639.18" y1="298.50" x2="639.18" y2="323.20" stroke="#e2e2e2" stroke-width="0.5" />
<rect x="407.00" y="325.60" width="250.04" height="25.00" fill="none" stroke="#dcdcdc" stroke-width="0.5" />
<line x1="424.86" y1="325.60" x2="424.86" y2="350.60" stroke="#e2e2e2" stroke-width="0.5" />
<line x1="442.72" y1="325.60" x2="442.72" y2="350.60" stroke="#e2e2e2" stroke-width="0.5" />
<line x1="460.58" y1="325.60" x2="460.58" y2="350.60" stroke="#e2e2e2" stroke-width="0.5" />
<line x1="478.44" y1="325.60" x2="478.44" y2="350.60" stroke="#e2e2e2" stroke-width="0.5" />
<line x1="496.30" y1="325.60" x2="496.30" y2="350.60" stroke="#e2e2e2" stroke-width="0.5" />
<line x1="514.16" y1="325.60" x2="514.16" y2="350.60" stroke="#e2e2e2" stroke-width="0.5" />
<line x1="532.02" y1="325.60" x2="532.02" y2="350.60" stroke="#e2e2e2" stroke-width="0.5" />
<line x1="549.88" y1="325.60" x2="549.88" y2="350.60" stroke="#e2e2e2" stroke-width="0.5" />
<line x1="567.74" y1="325.60" x2="567.74" y2="350.60" stroke="#e2e2e2" stroke-width="0.5" />
<line x1="585.60" y1="325.60" x2="585.60" y2="350.60" stroke="#e2e2e2" stroke-width="0.5" />
<line x1="603.46" y1="325.60" x2="603.46" y2="350.60" stroke="#e2e2e2" stroke-width="0.5" />
<line x1="621.32" y1="325.60" x2="621.32" y2="350.60" stroke="#e2e2e2" stroke-width="0.5" />
<line x1="639.18" y1="325.60" x2="639.18" y2="350.60" stroke="#e2e2e2" stroke-width="0.5" />
<circle cx="415.9" cy="311.2" r="8.75" fill="#C9C9C9" />
<circle cx="415.9" cy="337.6" r="8.75" fill="#643C8C" />
<circle cx="433.8" cy="311.2" r="8.75" fill="#C9C9C9" />
<circle cx="433.8" cy="337.6" r="8.75" fill="#643C8C" />
<circle cx="451.6" cy="311.2" r="8.75" fill="#DC6A82" />
<circle cx="451.6" cy="337.6" r="8.75" fill="#643C8C" />
<circle cx="469.5" cy="311.2" r="8.75" fill="#DC6A82" />
<circle cx="469.5" cy="337.6" r="8.75" fill="#643C8C" />
<circle cx="487.4" cy="311.2" r="8.75" fill="#DC6A82" />
<circle cx="487.4" cy="337.6" r="8.75" fill="#643C8C" />
<circle cx="505.2" cy="311.2" r="8.75" fill="#C9C9C9" />
<circle cx="505.2" cy="337.6" r="8.75" fill="#643C8C" />
<circle cx="523.1" cy="311.2" r="8.75" fill="#C9C9C9" />
<circle cx="523.1" cy="337.6" r="8.75" fill="#643C8C" />
<circle cx="541.0" cy="311.2" r="8.75" fill="#DC6A82" />
<circle cx="541.0" cy="337.6" r="8.75" fill="#643C8C" />
<circle cx="558.8" cy="311.2" r="8.75" fill="#DC6A82" />
<circle cx="558.8" cy="337.6" r="8.75" fill="#643C8C" />
<circle cx="576.7" cy="311.2" r="8.75" fill="#DC6A82" />
<circle cx="576.7" cy="337.6" r="8.75" fill="#643C8C" />
<circle cx="594.5" cy="311.2" r="8.75" fill="#DC6A82" />
<circle cx="594.5" cy="337.6" r="8.75" fill="#643C8C" />
<circle cx="612.4" cy="311.2" r="8.75" fill="#DC6A82" />
<circle cx="612.4" cy="337.6" r="8.75" fill="#643C8C" />
<circle cx="630.2" cy="311.2" r="8.75" fill="#DC6A82" />
<circle cx="630.2" cy="337.6" r="8.75" fill="#643C8C" />
<circle cx="648.1" cy="311.2" r="8.75" fill="#DC6A82" />
<circle cx="648.1" cy="337.6" r="8.75" fill="#643C8C" />
<circle cx="412.9" cy="359.8" r="4.50" fill="#DC6A82" stroke="#000" stroke-width="0.6" />
<circle cx="412.9" cy="371.4" r="4.50" fill="#643C8C" stroke="#000" stroke-width="0.6" />
<text x="420.80" y="362.50" font-size="8.1" font-weight="normal" text-anchor="start" fill="#000" stroke="#000" stroke-width="0.15" textLength="109.00" lengthAdjust="spacing">Marker upregulated by TGFβ1</text>
<text x="420.80" y="374.10" font-size="8.1" font-weight="normal" text-anchor="start" fill="#000" stroke="#000" stroke-width="0.15" textLength="191.40" lengthAdjust="spacing">Marker upregulated by co-treatment of TGFβ1+FGF2</text>
<text x="-0.30" y="435.20" font-size="17.5" font-weight="bold" text-anchor="start" fill="#000" >e</text>
<rect x="55.40" y="554.20" width="9.40" height="25.40" fill="#333333" stroke="#111" stroke-width="0.5" />
<line x1="60.10" y1="550.99" x2="60.10" y2="557.01" stroke="#000" stroke-width="0.7" />
<line x1="57.10" y1="550.99" x2="63.10" y2="550.99" stroke="#000" stroke-width="0.7" />
<line x1="57.10" y1="557.01" x2="63.10" y2="557.01" stroke="#000" stroke-width="0.7" />
<circle cx="60.1" cy="549.5" r="0.95" />
<circle cx="60.1" cy="559.5" r="0.95" />
<circle cx="60.1" cy="554.5" r="0.95" />
<rect x="67.65" y="522.07" width="9.40" height="57.53" fill="#058208" stroke="#111" stroke-width="0.5" />
<line x1="72.35" y1="520.87" x2="72.35" y2="522.87" stroke="#000" stroke-width="0.7" />
<line x1="69.35" y1="520.87" x2="75.35" y2="520.87" stroke="#000" stroke-width="0.7" />
<line x1="69.35" y1="522.87" x2="75.35" y2="522.87" stroke="#000" stroke-width="0.7" />
<circle cx="70.6" cy="520.4" r="0.95" />
<circle cx="74.2" cy="521.1" r="0.95" />
<circle cx="72.4" cy="523.1" r="0.95" />
<rect x="79.90" y="539.14" width="9.40" height="40.46" fill="#44ECB2" stroke="#111" stroke-width="0.5" />
<line x1="84.60" y1="533.92" x2="84.60" y2="543.96" stroke="#000" stroke-width="0.7" />
<line x1="81.60" y1="533.92" x2="87.60" y2="533.92" stroke="#000" stroke-width="0.7" />
<line x1="81.60" y1="543.96" x2="87.60" y2="543.96" stroke="#000" stroke-width="0.7" />
<circle cx="84.6" cy="533.2" r="0.95" />
<circle cx="85.6" cy="534.9" r="0.95" />
<circle cx="84.6" cy="546.5" r="0.95" />
<text x="69.10" y="594.30" font-size="8.4" font-weight="bold" text-anchor="middle" fill="#000"  textLength="36.80" lengthAdjust="spacing">TM4SF20</text>
<line x1="71.50" y1="579.60" x2="71.50" y2="583.20" stroke="#000" stroke-width="1.25" />
<rect x="96.90" y="553.95" width="9.40" height="25.65" fill="#333333" stroke="#111" stroke-width="0.5" />
<line x1="101.60" y1="548.98" x2="101.60" y2="558.52" stroke="#000" stroke-width="0.7" />
<line x1="98.60" y1="548.98" x2="104.60" y2="548.98" stroke="#000" stroke-width="0.7" />
<line x1="98.60" y1="558.52" x2="104.60" y2="558.52" stroke="#000" stroke-width="0.7" />
<circle cx="101.6" cy="545.0" r="0.95" />
<circle cx="101.6" cy="561.3" r="0.95" />
<circle cx="101.6" cy="554.5" r="0.95" />
<rect x="109.15" y="536.38" width="9.40" height="43.22" fill="#058208" stroke="#111" stroke-width="0.5" />
<line x1="113.85" y1="534.92" x2="113.85" y2="537.43" stroke="#000" stroke-width="0.7" />
<line x1="110.85" y1="534.92" x2="116.85" y2="534.92" stroke="#000" stroke-width="0.7" />
<line x1="110.85" y1="537.43" x2="116.85" y2="537.43" stroke="#000" stroke-width="0.7" />
<circle cx="113.9" cy="533.9" r="0.95" />
<circle cx="112.1" cy="535.9" r="0.95" />
<circle cx="115.7" cy="537.4" r="0.95" />
<rect x="121.40" y="510.02" width="9.40" height="69.58" fill="#44ECB2" stroke="#111" stroke-width="0.5" />
<line x1="126.10" y1="506.81" x2="126.10" y2="512.83" stroke="#000" stroke-width="0.7" />
<line x1="123.10" y1="506.81" x2="129.10" y2="506.81" stroke="#000" stroke-width="0.7" />
<line x1="123.10" y1="512.83" x2="129.10" y2="512.83" stroke="#000" stroke-width="0.7" />
<circle cx="126.1" cy="504.8" r="0.95" />
<circle cx="126.1" cy="509.3" r="0.95" />
<circle cx="126.1" cy="515.3" r="0.95" />
<text x="113.40" y="594.30" font-size="8.4" font-weight="bold" text-anchor="middle" fill="#000"  textLength="27.40" lengthAdjust="spacing">THSD4</text>
<line x1="114.00" y1="579.60" x2="114.00" y2="583.20" stroke="#000" stroke-width="1.25" />
<rect x="138.80" y="554.95" width="9.40" height="24.65" fill="#333333" stroke="#111" stroke-width="0.5" />
<line x1="143.50" y1="553.75" x2="143.50" y2="555.75" stroke="#000" stroke-width="0.7" />
<line x1="140.50" y1="553.75" x2="146.50" y2="553.75" stroke="#000" stroke-width="0.7" />
<line x1="140.50" y1="555.75" x2="146.50" y2="555.75" stroke="#000" stroke-width="0.7" />
<circle cx="143.5" cy="552.5" r="0.95" />
<circle cx="141.7" cy="554.5" r="0.95" />
<circle cx="145.3" cy="556.0" r="0.95" />
<rect x="151.05" y="536.13" width="9.40" height="43.47" fill="#058208" stroke="#111" stroke-width="0.5" />
<line x1="155.75" y1="534.67" x2="155.75" y2="537.18" stroke="#000" stroke-width="0.7" />
<line x1="152.75" y1="534.67" x2="158.75" y2="534.67" stroke="#000" stroke-width="0.7" />
<line x1="152.75" y1="537.18" x2="158.75" y2="537.18" stroke="#000" stroke-width="0.7" />
<circle cx="153.9" cy="534.4" r="0.95" />
<circle cx="157.6" cy="535.7" r="0.95" />
<circle cx="155.8" cy="537.9" r="0.95" />
<rect x="163.30" y="541.65" width="9.40" height="37.95" fill="#44ECB2" stroke="#111" stroke-width="0.5" />
<line x1="168.00" y1="540.44" x2="168.00" y2="542.45" stroke="#000" stroke-width="0.7" />
<line x1="165.00" y1="540.44" x2="171.00" y2="540.44" stroke="#000" stroke-width="0.7" />
<line x1="165.00" y1="542.45" x2="171.00" y2="542.45" stroke="#000" stroke-width="0.7" />
<circle cx="166.5" cy="539.9" r="0.95" />
<circle cx="169.0" cy="541.2" r="0.95" />
<circle cx="171.0" cy="542.7" r="0.95" />
<text x="154.70" y="594.30" font-size="8.4" font-weight="bold" text-anchor="middle" fill="#000"  textLength="36.60" lengthAdjust="spacing">SLC46A1</text>
<line x1="155.70" y1="579.60" x2="155.70" y2="583.20" stroke="#000" stroke-width="1.25" />
<rect x="180.40" y="554.70" width="9.40" height="24.90" fill="#333333" stroke="#111" stroke-width="0.5" />
<line x1="185.10" y1="554.00" x2="185.10" y2="555.00" stroke="#000" stroke-width="0.7" />
<line x1="182.10" y1="554.00" x2="188.10" y2="554.00" stroke="#000" stroke-width="0.7" />
<line x1="182.10" y1="555.00" x2="188.10" y2="555.00" stroke="#000" stroke-width="0.7" />
<circle cx="183.1" cy="554.0" r="0.95" />
<circle cx="185.1" cy="554.5" r="0.95" />
<circle cx="187.1" cy="554.8" r="0.95" />
<rect x="192.65" y="524.33" width="9.40" height="55.27" fill="#058208" stroke="#111" stroke-width="0.5" />
<line x1="197.35" y1="520.11" x2="197.35" y2="528.14" stroke="#000" stroke-width="0.7" />
<line x1="194.35" y1="520.11" x2="200.35" y2="520.11" stroke="#000" stroke-width="0.7" />
<line x1="194.35" y1="528.14" x2="200.35" y2="528.14" stroke="#000" stroke-width="0.7" />
<circle cx="197.3" cy="515.8" r="0.95" />
<circle cx="197.3" cy="526.9" r="0.95" />
<circle cx="197.3" cy="530.7" r="0.95" />
<rect x="204.90" y="525.33" width="9.40" height="54.27" fill="#44ECB2" stroke="#111" stroke-width="0.5" />
<line x1="209.60" y1="521.87" x2="209.60" y2="528.40" stroke="#000" stroke-width="0.7" />
<line x1="206.60" y1="521.87" x2="212.60" y2="521.87" stroke="#000" stroke-width="0.7" />
<line x1="206.60" y1="528.40" x2="212.60" y2="528.40" stroke="#000" stroke-width="0.7" />
<circle cx="209.6" cy="519.6" r="0.95" />
<circle cx="209.6" cy="525.6" r="0.95" />
<circle cx="209.6" cy="530.7" r="0.95" />
<text x="198.70" y="594.30" font-size="8.4" font-weight="bold" text-anchor="middle" fill="#000"  textLength="16.40" lengthAdjust="spacing">LCT</text>
<line x1="197.10" y1="579.60" x2="197.10" y2="583.20" stroke="#000" stroke-width="1.25" />
<rect x="222.00" y="553.19" width="9.40" height="26.41" fill="#333333" stroke="#111" stroke-width="0.5" />
<line x1="226.70" y1="547.22" x2="226.70" y2="558.77" stroke="#000" stroke-width="0.7" />
<line x1="223.70" y1="547.22" x2="229.70" y2="547.22" stroke="#000" stroke-width="0.7" />
<line x1="223.70" y1="558.77" x2="229.70" y2="558.77" stroke="#000" stroke-width="0.7" />
<circle cx="226.7" cy="544.2" r="0.95" />
<circle cx="226.7" cy="559.5" r="0.95" />
<circle cx="226.7" cy="555.3" r="0.95" />
<rect x="234.25" y="517.55" width="9.40" height="62.05" fill="#058208" stroke="#111" stroke-width="0.5" />
<line x1="238.95" y1="516.10" x2="238.95" y2="518.61" stroke="#000" stroke-width="0.7" />
<line x1="235.95" y1="516.10" x2="241.95" y2="516.10" stroke="#000" stroke-width="0.7" />
<line x1="235.95" y1="518.61" x2="241.95" y2="518.61" stroke="#000" stroke-width="0.7" />
<circle cx="239.0" cy="514.3" r="0.95" />
<circle cx="237.2" cy="517.6" r="0.95" />
<circle cx="240.8" cy="518.9" r="0.95" />
<rect x="246.50" y="543.15" width="9.40" height="36.45" fill="#44ECB2" stroke="#111" stroke-width="0.5" />
<line x1="251.20" y1="537.93" x2="251.20" y2="547.97" stroke="#000" stroke-width="0.7" />
<line x1="248.20" y1="537.93" x2="254.20" y2="537.93" stroke="#000" stroke-width="0.7" />
<line x1="248.20" y1="547.97" x2="254.20" y2="547.97" stroke="#000" stroke-width="0.7" />
<circle cx="251.2" cy="534.9" r="0.95" />
<circle cx="251.2" cy="544.5" r="0.95" />
<circle cx="251.2" cy="552.5" r="0.95" />
<text x="239.40" y="594.30" font-size="8.4" font-weight="bold" text-anchor="middle" fill="#000"  textLength="27.40" lengthAdjust="spacing">ABTB2</text>
<line x1="238.90" y1="579.60" x2="238.90" y2="583.20" stroke="#000" stroke-width="1.25" />
<line x1="50.50" y1="478.57" x2="50.50" y2="580.23" stroke="#000" stroke-width="1.25" />
<line x1="49.88" y1="579.60" x2="260.80" y2="579.60" stroke="#000" stroke-width="1.25" />
<line x1="47.00" y1="579.60" x2="50.50" y2="579.60" stroke="#000" stroke-width="1.25" />
<text x="45.40" y="582.48" font-size="8" font-weight="bold" text-anchor="end" fill="#000" >0</text>
<line x1="47.00" y1="554.50" x2="50.50" y2="554.50" stroke="#000" stroke-width="1.25" />
<text x="45.40" y="557.38" font-size="8" font-weight="bold" text-anchor="end" fill="#000" >1</text>
<line x1="47.00" y1="529.40" x2="50.50" y2="529.40" stroke="#000" stroke-width="1.25" />
<text x="45.40" y="532.28" font-size="8" font-weight="bold" text-anchor="end" fill="#000" >2</text>
<line x1="47.00" y1="504.30" x2="50.50" y2="504.30" stroke="#000" stroke-width="1.25" />
<text x="45.40" y="507.18" font-size="8" font-weight="bold" text-anchor="end" fill="#000" >3</text>
<line x1="47.00" y1="479.20" x2="50.50" y2="479.20" stroke="#000" stroke-width="1.25" />
<text x="45.40" y="482.08" font-size="8" font-weight="bold" text-anchor="end" fill="#000" >4</text>
<text transform="translate(23.50,532.70) rotate(-90)" font-size="8.4" font-weight="bold" text-anchor="middle" fill="#000" textLength="109.30" lengthAdjust="spacing">Relative mRNA expression/</text>
<text transform="translate(32.70,532.70) rotate(-90)" font-size="8.4" font-weight="bold" text-anchor="middle" fill="#000" textLength="45.00" lengthAdjust="spacing">Hprt+Rplp0</text>
<text x="155.80" y="459.80" font-size="9.7" font-weight="bold" text-anchor="middle" fill="#000"  textLength="76.50" lengthAdjust="spacing">Adult enterocyte</text>
<line x1="61.30" y1="467.20" x2="252.90" y2="467.20" stroke="#555" stroke-width="0.9" />
<polyline points="59.30,518.20 59.30,516.00 71.50,516.00 71.50,518.20" fill="none" stroke="#000" stroke-width="0.85"/>
<text x="65.85" y="516.40" font-size="12" font-weight="bold" text-anchor="middle" fill="#000"  letter-spacing="0.9">***</text>
<polyline points="72.60,518.20 72.60,516.00 85.40,516.00 85.40,518.20" fill="none" stroke="#000" stroke-width="0.85"/>
<text x="79.75" y="516.40" font-size="12" font-weight="bold" text-anchor="middle" fill="#000"  letter-spacing="0.9">*</text>
<polyline points="100.10,502.50 100.10,500.30 112.80,500.30 112.80,502.50" fill="none" stroke="#000" stroke-width="0.85"/>
<text x="106.75" y="500.70" font-size="12" font-weight="bold" text-anchor="middle" fill="#000"  letter-spacing="0.9">*</text>
<polyline points="113.80,502.50 113.80,500.30 126.70,500.30 126.70,502.50" fill="none" stroke="#000" stroke-width="0.85"/>
<text x="120.65" y="500.70" font-size="12" font-weight="bold" text-anchor="middle" fill="#000"  letter-spacing="0.9">**</text>
<polyline points="142.60,531.30 142.60,529.10 155.70,529.10 155.70,531.30" fill="none" stroke="#000" stroke-width="0.85"/>
<text x="149.55" y="529.50" font-size="12" font-weight="bold" text-anchor="middle" fill="#000"  letter-spacing="0.9">***</text>
<polyline points="156.80,531.30 156.80,529.10 169.30,529.10 169.30,531.30" fill="none" stroke="#000" stroke-width="0.85"/>
<text x="163.55" y="529.50" font-size="12" font-weight="bold" text-anchor="middle" fill="#000"  letter-spacing="0.9">*</text>
<polyline points="185.30,513.80 185.30,511.60 197.70,511.60 197.70,513.80" fill="none" stroke="#000" stroke-width="0.85"/>
<text x="192.05" y="512.00" font-size="12" font-weight="bold" text-anchor="middle" fill="#000"  letter-spacing="0.9">***</text>
<polyline points="225.50,510.50 225.50,508.30 238.20,508.30 238.20,510.50" fill="none" stroke="#000" stroke-width="0.85"/>
<text x="231.65" y="508.70" font-size="12" font-weight="bold" text-anchor="middle" fill="#000"  letter-spacing="0.9">**</text>
<polyline points="239.30,510.50 239.30,508.30 251.40,508.30 251.40,510.50" fill="none" stroke="#000" stroke-width="0.85"/>
<text x="245.65" y="508.70" font-size="12" font-weight="bold" text-anchor="middle" fill="#000"  letter-spacing="0.9">*</text>
<rect x="332.80" y="547.20" width="15.90" height="33.00" fill="#333333" stroke="#111" stroke-width="0.5" />
<line x1="340.75" y1="541.42" x2="340.75" y2="552.59" stroke="#000" stroke-width="0.7" />
<line x1="337.75" y1="541.42" x2="343.75" y2="541.42" stroke="#000" stroke-width="0.7" />
<line x1="337.75" y1="552.59" x2="343.75" y2="552.59" stroke="#000" stroke-width="0.7" />
<circle cx="340.8" cy="535.8" r="0.95" />
<circle cx="340.8" cy="552.3" r="0.95" />
<circle cx="341.8" cy="550.6" r="0.95" />
<rect x="352.65" y="515.32" width="15.90" height="64.88" fill="#058208" stroke="#111" stroke-width="0.5" />
<line x1="360.60" y1="506.58" x2="360.60" y2="523.67" stroke="#000" stroke-width="0.7" />
<line x1="357.60" y1="506.58" x2="363.60" y2="506.58" stroke="#000" stroke-width="0.7" />
<line x1="357.60" y1="523.67" x2="363.60" y2="523.67" stroke="#000" stroke-width="0.7" />
<circle cx="360.6" cy="501.3" r="0.95" />
<circle cx="360.6" cy="512.8" r="0.95" />
<circle cx="360.6" cy="530.6" r="0.95" />
<rect x="372.50" y="537.67" width="15.90" height="42.53" fill="#44ECB2" stroke="#111" stroke-width="0.5" />
<line x1="380.45" y1="536.49" x2="380.45" y2="538.46" stroke="#000" stroke-width="0.7" />
<line x1="377.45" y1="536.49" x2="383.45" y2="536.49" stroke="#000" stroke-width="0.7" />
<line x1="377.45" y1="538.46" x2="383.45" y2="538.46" stroke="#000" stroke-width="0.7" />
<circle cx="380.4" cy="534.8" r="0.95" />
<circle cx="378.9" cy="537.5" r="0.95" />
<circle cx="381.9" cy="538.5" r="0.95" />
<text x="359.10" y="594.20" font-size="9" font-weight="bold" text-anchor="middle" fill="#000"  textLength="47.40" lengthAdjust="spacing">TMPRSS15</text>
<line x1="360.60" y1="580.20" x2="360.60" y2="583.80" stroke="#000" stroke-width="1.25" />
<rect x="400.60" y="546.88" width="15.90" height="33.32" fill="#333333" stroke="#111" stroke-width="0.5" />
<line x1="408.55" y1="541.09" x2="408.55" y2="552.26" stroke="#000" stroke-width="0.7" />
<line x1="405.55" y1="541.09" x2="411.55" y2="541.09" stroke="#000" stroke-width="0.7" />
<line x1="405.55" y1="552.26" x2="411.55" y2="552.26" stroke="#000" stroke-width="0.7" />
<circle cx="408.5" cy="537.5" r="0.95" />
<circle cx="408.5" cy="554.9" r="0.95" />
<circle cx="408.5" cy="547.3" r="0.95" />
<rect x="420.45" y="515.32" width="15.90" height="64.88" fill="#058208" stroke="#111" stroke-width="0.5" />
<line x1="428.40" y1="506.25" x2="428.40" y2="524.00" stroke="#000" stroke-width="0.7" />
<line x1="425.40" y1="506.25" x2="431.40" y2="506.25" stroke="#000" stroke-width="0.7" />
<line x1="425.40" y1="524.00" x2="431.40" y2="524.00" stroke="#000" stroke-width="0.7" />
<circle cx="428.4" cy="499.7" r="0.95" />
<circle cx="428.4" cy="512.8" r="0.95" />
<circle cx="428.4" cy="528.9" r="0.95" />
<rect x="440.30" y="547.53" width="15.90" height="32.67" fill="#44ECB2" stroke="#111" stroke-width="0.5" />
<line x1="448.25" y1="541.42" x2="448.25" y2="553.25" stroke="#000" stroke-width="0.7" />
<line x1="445.25" y1="541.42" x2="451.25" y2="541.42" stroke="#000" stroke-width="0.7" />
<line x1="445.25" y1="553.25" x2="451.25" y2="553.25" stroke="#000" stroke-width="0.7" />
<circle cx="448.2" cy="535.8" r="0.95" />
<circle cx="448.2" cy="556.5" r="0.95" />
<circle cx="448.2" cy="547.3" r="0.95" />
<text x="430.00" y="594.20" font-size="9" font-weight="bold" text-anchor="middle" fill="#000"  textLength="30.90" lengthAdjust="spacing">ANPEP</text>
<line x1="428.50" y1="580.20" x2="428.50" y2="583.80" stroke="#000" stroke-width="1.25" />
<line x1="325.50" y1="480.98" x2="325.50" y2="580.83" stroke="#000" stroke-width="1.25" />
<line x1="324.88" y1="580.20" x2="464.00" y2="580.20" stroke="#000" stroke-width="1.25" />
<line x1="322.30" y1="580.20" x2="325.50" y2="580.20" stroke="#000" stroke-width="1.25" />
<text x="320.80" y="583.08" font-size="8" font-weight="bold" text-anchor="end" fill="#000" >0</text>
<line x1="322.30" y1="547.33" x2="325.50" y2="547.33" stroke="#000" stroke-width="1.25" />
<text x="320.80" y="550.21" font-size="8" font-weight="bold" text-anchor="end" fill="#000" >1</text>
<line x1="322.30" y1="514.47" x2="325.50" y2="514.47" stroke="#000" stroke-width="1.25" />
<text x="320.80" y="517.35" font-size="8" font-weight="bold" text-anchor="end" fill="#000" >2</text>
<line x1="322.30" y1="481.60" x2="325.50" y2="481.60" stroke="#000" stroke-width="1.25" />
<text x="320.80" y="484.48" font-size="8" font-weight="bold" text-anchor="end" fill="#000" >3</text>
<text transform="translate(299.20,534.00) rotate(-90)" font-size="9" font-weight="bold" text-anchor="middle" fill="#000" textLength="116.00" lengthAdjust="spacing">Relative mRNA expression/</text>
<text transform="translate(310.40,534.00) rotate(-90)" font-size="9" font-weight="bold" text-anchor="middle" fill="#000" textLength="48.40" lengthAdjust="spacing">Hprt+Rplp0</text>
<text x="388.60" y="460.30" font-size="9.7" font-weight="bold" text-anchor="middle" fill="#000"  textLength="81.80" lengthAdjust="spacing">Digestive enzyme</text>
<line x1="334.90" y1="467.20" x2="442.60" y2="467.20" stroke="#555" stroke-width="0.9" />
<polyline points="343.50,497.60 343.50,495.40 361.30,495.40 361.30,497.60" fill="none" stroke="#000" stroke-width="0.85"/>
<text x="353.35" y="495.80" font-size="12" font-weight="bold" text-anchor="middle" fill="#000"  letter-spacing="0.9">*</text>
<polyline points="406.80,496.80 406.80,494.60 427.40,494.60 427.40,496.80" fill="none" stroke="#000" stroke-width="0.85"/>
<text x="417.35" y="495.00" font-size="12" font-weight="bold" text-anchor="middle" fill="#000"  letter-spacing="0.9">*</text>
<polyline points="429.70,496.80 429.70,494.60 450.30,494.60 450.30,496.80" fill="none" stroke="#000" stroke-width="0.85"/>
<text x="440.25" y="495.00" font-size="12" font-weight="bold" text-anchor="middle" fill="#000"  letter-spacing="0.9">*</text>
<rect x="526.90" y="556.15" width="11.00" height="24.06" fill="#333333" stroke="#111" stroke-width="0.5" />
<line x1="532.40" y1="553.99" x2="532.40" y2="557.91" stroke="#000" stroke-width="0.7" />
<line x1="529.40" y1="553.99" x2="535.40" y2="553.99" stroke="#000" stroke-width="0.7" />
<line x1="529.40" y1="557.91" x2="535.40" y2="557.91" stroke="#000" stroke-width="0.7" />
<circle cx="532.4" cy="552.0" r="0.95" />
<circle cx="530.9" cy="557.7" r="0.95" />
<circle cx="533.9" cy="558.1" r="0.95" />
<rect x="541.25" y="527.73" width="11.00" height="52.48" fill="#058208" stroke="#111" stroke-width="0.5" />
<line x1="546.75" y1="524.59" x2="546.75" y2="530.47" stroke="#000" stroke-width="0.7" />
<line x1="543.75" y1="524.59" x2="549.75" y2="524.59" stroke="#000" stroke-width="0.7" />
<line x1="543.75" y1="530.47" x2="549.75" y2="530.47" stroke="#000" stroke-width="0.7" />
<circle cx="546.8" cy="523.9" r="0.95" />
<circle cx="546.8" cy="526.3" r="0.95" />
<circle cx="546.8" cy="532.4" r="0.95" />
<rect x="555.60" y="553.70" width="11.00" height="26.51" fill="#44ECB2" stroke="#111" stroke-width="0.5" />
<line x1="561.10" y1="547.37" x2="561.10" y2="559.62" stroke="#000" stroke-width="0.7" />
<line x1="558.10" y1="547.37" x2="564.10" y2="547.37" stroke="#000" stroke-width="0.7" />
<line x1="558.10" y1="559.62" x2="564.10" y2="559.62" stroke="#000" stroke-width="0.7" />
<circle cx="561.1" cy="542.0" r="0.95" />
<circle cx="561.1" cy="558.1" r="0.95" />
<circle cx="562.6" cy="559.4" r="0.95" />
<text x="549.60" y="593.60" font-size="9" font-weight="bold" text-anchor="middle" fill="#000" >APOB</text>
<line x1="547.00" y1="580.20" x2="547.00" y2="583.80" stroke="#000" stroke-width="1.25" />
<rect x="575.40" y="556.39" width="11.00" height="23.81" fill="#333333" stroke="#111" stroke-width="0.5" />
<line x1="580.90" y1="554.23" x2="580.90" y2="558.15" stroke="#000" stroke-width="0.7" />
<line x1="577.90" y1="554.23" x2="583.90" y2="554.23" stroke="#000" stroke-width="0.7" />
<line x1="577.90" y1="558.15" x2="583.90" y2="558.15" stroke="#000" stroke-width="0.7" />
<circle cx="580.9" cy="554.0" r="0.95" />
<circle cx="579.4" cy="557.4" r="0.95" />
<circle cx="582.4" cy="556.9" r="0.95" />
<rect x="589.75" y="500.28" width="11.00" height="79.92" fill="#058208" stroke="#111" stroke-width="0.5" />
<line x1="595.25" y1="496.16" x2="595.25" y2="504.00" stroke="#000" stroke-width="0.7" />
<line x1="592.25" y1="496.16" x2="598.25" y2="496.16" stroke="#000" stroke-width="0.7" />
<line x1="592.25" y1="504.00" x2="598.25" y2="504.00" stroke="#000" stroke-width="0.7" />
<circle cx="595.3" cy="493.2" r="0.95" />
<circle cx="595.3" cy="499.4" r="0.95" />
<circle cx="595.3" cy="505.5" r="0.95" />
<rect x="604.10" y="526.26" width="11.00" height="53.95" fill="#44ECB2" stroke="#111" stroke-width="0.5" />
<line x1="609.60" y1="518.95" x2="609.60" y2="533.16" stroke="#000" stroke-width="0.7" />
<line x1="606.60" y1="518.95" x2="612.60" y2="518.95" stroke="#000" stroke-width="0.7" />
<line x1="606.60" y1="533.16" x2="612.60" y2="533.16" stroke="#000" stroke-width="0.7" />
<circle cx="609.6" cy="512.8" r="0.95" />
<circle cx="609.6" cy="531.2" r="0.95" />
<circle cx="610.6" cy="532.9" r="0.95" />
<text x="597.00" y="593.60" font-size="9" font-weight="bold" text-anchor="middle" fill="#000" >ACSL5</text>
<line x1="595.10" y1="580.20" x2="595.10" y2="583.80" stroke="#000" stroke-width="1.25" />
<rect x="623.60" y="555.41" width="11.00" height="24.79" fill="#333333" stroke="#111" stroke-width="0.5" />
<line x1="629.10" y1="550.80" x2="629.10" y2="559.62" stroke="#000" stroke-width="0.7" />
<line x1="626.10" y1="550.80" x2="632.10" y2="550.80" stroke="#000" stroke-width="0.7" />
<line x1="626.10" y1="559.62" x2="632.10" y2="559.62" stroke="#000" stroke-width="0.7" />
<circle cx="629.1" cy="550.1" r="0.95" />
<circle cx="631.1" cy="550.8" r="0.95" />
<circle cx="629.1" cy="563.1" r="0.95" />
<rect x="637.95" y="527.73" width="11.00" height="52.48" fill="#058208" stroke="#111" stroke-width="0.5" />
<line x1="643.45" y1="525.81" x2="643.45" y2="529.24" stroke="#000" stroke-width="0.7" />
<line x1="640.45" y1="525.81" x2="646.45" y2="525.81" stroke="#000" stroke-width="0.7" />
<line x1="640.45" y1="529.24" x2="646.45" y2="529.24" stroke="#000" stroke-width="0.7" />
<circle cx="643.5" cy="523.9" r="0.95" />
<circle cx="643.5" cy="527.5" r="0.95" />
<circle cx="643.5" cy="530.0" r="0.95" />
<rect x="652.30" y="542.67" width="11.00" height="37.53" fill="#44ECB2" stroke="#111" stroke-width="0.5" />
<line x1="657.80" y1="542.23" x2="657.80" y2="542.72" stroke="#000" stroke-width="0.7" />
<line x1="654.80" y1="542.23" x2="660.80" y2="542.23" stroke="#000" stroke-width="0.7" />
<line x1="654.80" y1="542.72" x2="660.80" y2="542.72" stroke="#000" stroke-width="0.7" />
<circle cx="655.3" cy="542.0" r="0.95" />
<circle cx="657.8" cy="542.2" r="0.95" />
<circle cx="660.3" cy="542.5" r="0.95" />
<text x="642.90" y="593.60" font-size="9" font-weight="bold" text-anchor="middle" fill="#000" >SLC27A4</text>
<line x1="643.40" y1="580.20" x2="643.40" y2="583.80" stroke="#000" stroke-width="1.25" />
<line x1="522.40" y1="481.57" x2="522.40" y2="580.83" stroke="#000" stroke-width="1.25" />
<line x1="521.77" y1="580.20" x2="667.90" y2="580.20" stroke="#000" stroke-width="1.25" />
<line x1="519.20" y1="580.20" x2="522.40" y2="580.20" stroke="#000" stroke-width="1.25" />
<text x="517.70" y="583.08" font-size="8" font-weight="bold" text-anchor="end" fill="#000" >0</text>
<line x1="519.20" y1="555.70" x2="522.40" y2="555.70" stroke="#000" stroke-width="1.25" />
<text x="517.70" y="558.58" font-size="8" font-weight="bold" text-anchor="end" fill="#000" >1</text>
<line x1="519.20" y1="531.20" x2="522.40" y2="531.20" stroke="#000" stroke-width="1.25" />
<text x="517.70" y="534.08" font-size="8" font-weight="bold" text-anchor="end" fill="#000" >2</text>
<line x1="519.20" y1="506.70" x2="522.40" y2="506.70" stroke="#000" stroke-width="1.25" />
<text x="517.70" y="509.58" font-size="8" font-weight="bold" text-anchor="end" fill="#000" >3</text>
<line x1="519.20" y1="482.20" x2="522.40" y2="482.20" stroke="#000" stroke-width="1.25" />
<text x="517.70" y="485.08" font-size="8" font-weight="bold" text-anchor="end" fill="#000" >4</text>
<text transform="translate(494.40,538.80) rotate(-90)" font-size="9" font-weight="bold" text-anchor="middle" fill="#000" textLength="116.80" lengthAdjust="spacing">Relative mRNA expression/</text>
<text transform="translate(505.60,538.80) rotate(-90)" font-size="9" font-weight="bold" text-anchor="middle" fill="#000" textLength="48.60" lengthAdjust="spacing">Hprt+Rplp0</text>
<text x="596.10" y="459.70" font-size="9.7" font-weight="bold" text-anchor="middle" fill="#000"  textLength="92.00" lengthAdjust="spacing">Fatty acid transport</text>
<line x1="524.00" y1="467.20" x2="667.90" y2="467.20" stroke="#555" stroke-width="0.9" />
<polyline points="529.20,519.80 529.20,517.60 546.50,517.60 546.50,519.80" fill="none" stroke="#000" stroke-width="0.85"/>
<text x="538.05" y="518.00" font-size="12" font-weight="bold" text-anchor="middle" fill="#000"  letter-spacing="0.9">**</text>
<polyline points="547.80,519.80 547.80,517.60 563.70,517.60 563.70,519.80" fill="none" stroke="#000" stroke-width="0.85"/>
<text x="556.45" y="518.00" font-size="12" font-weight="bold" text-anchor="middle" fill="#000"  letter-spacing="0.9">**</text>
<polyline points="577.20,491.00 577.20,488.80 594.30,488.80 594.30,491.00" fill="none" stroke="#000" stroke-width="0.85"/>
<text x="585.85" y="489.20" font-size="12" font-weight="bold" text-anchor="middle" fill="#000"  letter-spacing="0.9">***</text>
<polyline points="595.60,491.00 595.60,488.80 611.70,488.80 611.70,491.00" fill="none" stroke="#000" stroke-width="0.85"/>
<text x="604.25" y="489.20" font-size="12" font-weight="bold" text-anchor="middle" fill="#000"  letter-spacing="0.9">*</text>
<polyline points="628.00,520.60 628.00,518.40 644.60,518.40 644.60,520.60" fill="none" stroke="#000" stroke-width="0.85"/>
<text x="636.15" y="518.80" font-size="12" font-weight="bold" text-anchor="middle" fill="#000"  letter-spacing="0.9">***</text>
<polyline points="645.90,520.60 645.90,518.40 660.00,518.40 660.00,520.60" fill="none" stroke="#000" stroke-width="0.85"/>
<text x="653.05" y="518.80" font-size="12" font-weight="bold" text-anchor="middle" fill="#000"  letter-spacing="0.9">*</text>
<line x1="580.30" y1="404.70" x2="580.30" y2="438.60" stroke="#222" stroke-width="0.8" />
<rect x="584.30" y="405.30" width="8.50" height="8.50" fill="#333333" stroke="#000" stroke-width="0.8" />
<text x="596.90" y="412.90" font-size="8.3" font-weight="bold" text-anchor="start" fill="#000"  letter-spacing="0.2">NT</text>
<rect x="584.30" y="417.90" width="8.50" height="8.50" fill="#058208" stroke="#000" stroke-width="0.8" />
<text x="596.90" y="425.40" font-size="8.3" font-weight="bold" text-anchor="start" fill="#000"  textLength="52.90" lengthAdjust="spacing">TGFβ1+FGF2</text>
<rect x="584.30" y="430.50" width="8.50" height="8.50" fill="#44ECB2" stroke="#000" stroke-width="0.8" />
<text x="596.90" y="437.90" font-size="8.3" font-weight="bold" text-anchor="start" fill="#000"  textLength="79.20" lengthAdjust="spacing">TGFβ1+FGF2+CFTR</text>
<text x="676.30" y="437.90" font-size="5.6" font-weight="bold" text-anchor="start" fill="#000"  letter-spacing="0.3">inh</text>
<text x="575.80" y="425.20" font-size="9.6" font-weight="bold" text-anchor="end" fill="#000"  textLength="31.50" lengthAdjust="spacing">-A8301</text>
<rect x="55.60" y="713.97" width="13.00" height="32.63" fill="#333333" stroke="#111" stroke-width="0.5" />
<line x1="62.10" y1="708.79" x2="62.10" y2="718.74" stroke="#000" stroke-width="0.7" />
<line x1="59.10" y1="708.79" x2="65.10" y2="708.79" stroke="#000" stroke-width="0.7" />
<line x1="59.10" y1="718.74" x2="65.10" y2="718.74" stroke="#000" stroke-width="0.7" />
<circle cx="62.1" cy="706.1" r="0.95" />
<circle cx="62.1" cy="720.7" r="0.95" />
<circle cx="62.1" cy="713.4" r="0.95" />
<rect x="72.40" y="703.35" width="13.00" height="43.25" fill="#058208" stroke="#111" stroke-width="0.5" />
<line x1="78.90" y1="696.52" x2="78.90" y2="709.79" stroke="#000" stroke-width="0.7" />
<line x1="75.90" y1="696.52" x2="81.90" y2="696.52" stroke="#000" stroke-width="0.7" />
<line x1="75.90" y1="709.79" x2="81.90" y2="709.79" stroke="#000" stroke-width="0.7" />
<circle cx="78.9" cy="692.5" r="0.95" />
<circle cx="78.9" cy="703.5" r="0.95" />
<circle cx="78.9" cy="713.4" r="0.95" />
<rect x="89.20" y="677.48" width="13.00" height="69.12" fill="#44ECB2" stroke="#111" stroke-width="0.5" />
<line x1="95.70" y1="670.65" x2="95.70" y2="683.92" stroke="#000" stroke-width="0.7" />
<line x1="92.70" y1="670.65" x2="98.70" y2="670.65" stroke="#000" stroke-width="0.7" />
<line x1="92.70" y1="683.92" x2="98.70" y2="683.92" stroke="#000" stroke-width="0.7" />
<circle cx="95.7" cy="665.7" r="0.95" />
<circle cx="95.7" cy="677.0" r="0.95" />
<circle cx="95.7" cy="689.9" r="0.95" />
<text x="76.90" y="760.80" font-size="8.4" font-weight="bold" text-anchor="middle" fill="#000"  textLength="41.00" lengthAdjust="spacing">SLC6A19</text>
<line x1="78.90" y1="746.60" x2="78.90" y2="750.20" stroke="#000" stroke-width="1.25" />
<rect x="112.70" y="713.63" width="13.00" height="32.97" fill="#333333" stroke="#111" stroke-width="0.5" />
<line x1="119.20" y1="710.78" x2="119.20" y2="716.09" stroke="#000" stroke-width="0.7" />
<line x1="116.20" y1="710.78" x2="122.20" y2="710.78" stroke="#000" stroke-width="0.7" />
<line x1="116.20" y1="716.09" x2="122.20" y2="716.09" stroke="#000" stroke-width="0.7" />
<circle cx="119.2" cy="710.1" r="0.95" />
<circle cx="119.2" cy="717.4" r="0.95" />
<circle cx="119.2" cy="713.4" r="0.95" />
<rect x="129.50" y="702.69" width="13.00" height="43.91" fill="#058208" stroke="#111" stroke-width="0.5" />
<line x1="136.00" y1="696.85" x2="136.00" y2="708.13" stroke="#000" stroke-width="0.7" />
<line x1="133.00" y1="696.85" x2="139.00" y2="696.85" stroke="#000" stroke-width="0.7" />
<line x1="133.00" y1="708.13" x2="139.00" y2="708.13" stroke="#000" stroke-width="0.7" />
<circle cx="136.0" cy="691.9" r="0.95" />
<circle cx="136.0" cy="705.1" r="0.95" />
<circle cx="136.0" cy="710.1" r="0.95" />
<rect x="146.30" y="698.38" width="13.00" height="48.22" fill="#44ECB2" stroke="#111" stroke-width="0.5" />
<line x1="152.80" y1="694.86" x2="152.80" y2="701.49" stroke="#000" stroke-width="0.7" />
<line x1="149.80" y1="694.86" x2="155.80" y2="694.86" stroke="#000" stroke-width="0.7" />
<line x1="149.80" y1="701.49" x2="155.80" y2="701.49" stroke="#000" stroke-width="0.7" />
<circle cx="152.8" cy="692.9" r="0.95" />
<circle cx="151.3" cy="698.5" r="0.95" />
<circle cx="154.3" cy="701.8" r="0.95" />
<text x="135.50" y="760.80" font-size="8.4" font-weight="bold" text-anchor="middle" fill="#000"  textLength="34.60" lengthAdjust="spacing">SLC6A6</text>
<line x1="135.30" y1="746.60" x2="135.30" y2="750.20" stroke="#000" stroke-width="1.25" />
<rect x="169.40" y="713.63" width="13.00" height="32.97" fill="#333333" stroke="#111" stroke-width="0.5" />
<line x1="175.90" y1="710.78" x2="175.90" y2="716.09" stroke="#000" stroke-width="0.7" />
<line x1="172.90" y1="710.78" x2="178.90" y2="710.78" stroke="#000" stroke-width="0.7" />
<line x1="172.90" y1="716.09" x2="178.90" y2="716.09" stroke="#000" stroke-width="0.7" />
<circle cx="175.9" cy="710.1" r="0.95" />
<circle cx="174.4" cy="716.8" r="0.95" />
<circle cx="177.4" cy="713.4" r="0.95" />
<rect x="186.20" y="691.74" width="13.00" height="54.86" fill="#058208" stroke="#111" stroke-width="0.5" />
<line x1="192.70" y1="688.56" x2="192.70" y2="694.53" stroke="#000" stroke-width="0.7" />
<line x1="189.70" y1="688.56" x2="195.70" y2="688.56" stroke="#000" stroke-width="0.7" />
<line x1="189.70" y1="694.53" x2="195.70" y2="694.53" stroke="#000" stroke-width="0.7" />
<circle cx="192.7" cy="686.9" r="0.95" />
<circle cx="192.7" cy="691.9" r="0.95" />
<circle cx="192.7" cy="695.2" r="0.95" />
<rect x="203.00" y="688.43" width="13.00" height="58.17" fill="#44ECB2" stroke="#111" stroke-width="0.5" />
<line x1="209.50" y1="686.24" x2="209.50" y2="690.22" stroke="#000" stroke-width="0.7" />
<line x1="206.50" y1="686.24" x2="212.50" y2="686.24" stroke="#000" stroke-width="0.7" />
<line x1="206.50" y1="690.22" x2="212.50" y2="690.22" stroke="#000" stroke-width="0.7" />
<circle cx="209.5" cy="684.6" r="0.95" />
<circle cx="208.0" cy="688.6" r="0.95" />
<circle cx="211.0" cy="690.2" r="0.95" />
<text x="191.70" y="760.80" font-size="8.4" font-weight="bold" text-anchor="middle" fill="#000"  textLength="34.30" lengthAdjust="spacing">SLC1A1</text>
<line x1="192.10" y1="746.60" x2="192.10" y2="750.20" stroke="#000" stroke-width="1.25" />
<line x1="48.70" y1="646.48" x2="48.70" y2="747.23" stroke="#000" stroke-width="1.25" />
<line x1="48.08" y1="746.60" x2="221.60" y2="746.60" stroke="#000" stroke-width="1.25" />
<line x1="45.50" y1="746.60" x2="48.70" y2="746.60" stroke="#000" stroke-width="1.25" />
<text x="44.00" y="749.48" font-size="8" font-weight="bold" text-anchor="end" fill="#000" >0</text>
<line x1="45.50" y1="713.43" x2="48.70" y2="713.43" stroke="#000" stroke-width="1.25" />
<text x="44.00" y="716.31" font-size="8" font-weight="bold" text-anchor="end" fill="#000" >1</text>
<line x1="45.50" y1="680.27" x2="48.70" y2="680.27" stroke="#000" stroke-width="1.25" />
<text x="44.00" y="683.15" font-size="8" font-weight="bold" text-anchor="end" fill="#000" >2</text>
<line x1="45.50" y1="647.10" x2="48.70" y2="647.10" stroke="#000" stroke-width="1.25" />
<text x="44.00" y="649.98" font-size="8" font-weight="bold" text-anchor="end" fill="#000" >3</text>
<text transform="translate(20.80,697.60) rotate(-90)" font-size="8.4" font-weight="bold" text-anchor="middle" fill="#000" textLength="118.50" lengthAdjust="spacing">Relative mRNA expression/</text>
<text transform="translate(32.60,697.60) rotate(-90)" font-size="8.4" font-weight="bold" text-anchor="middle" fill="#000" textLength="51.00" lengthAdjust="spacing">Hprt+Rplp0</text>
<text x="135.70" y="625.80" font-size="9.7" font-weight="bold" text-anchor="middle" fill="#000"  textLength="98.00" lengthAdjust="spacing">Amino acid transport</text>
<line x1="56.40" y1="632.80" x2="214.90" y2="632.80" stroke="#555" stroke-width="0.9" />
<polyline points="60.40,663.60 60.40,661.40 96.40,661.40 96.40,663.60" fill="none" stroke="#000" stroke-width="0.85"/>
<text x="78.35" y="661.80" font-size="12" font-weight="bold" text-anchor="middle" fill="#000"  letter-spacing="0.9">*</text>
<rect x="297.30" y="707.58" width="13.00" height="39.12" fill="#333333" stroke="#111" stroke-width="0.5" />
<line x1="303.80" y1="701.65" x2="303.80" y2="713.11" stroke="#000" stroke-width="0.7" />
<line x1="300.80" y1="701.65" x2="306.80" y2="701.65" stroke="#000" stroke-width="0.7" />
<line x1="300.80" y1="713.11" x2="306.80" y2="713.11" stroke="#000" stroke-width="0.7" />
<circle cx="303.8" cy="697.3" r="0.95" />
<circle cx="303.8" cy="708.2" r="0.95" />
<circle cx="303.8" cy="714.7" r="0.95" />
<rect x="314.10" y="679.12" width="13.00" height="67.58" fill="#058208" stroke="#111" stroke-width="0.5" />
<line x1="320.60" y1="672.40" x2="320.60" y2="685.44" stroke="#000" stroke-width="0.7" />
<line x1="317.60" y1="672.40" x2="323.60" y2="672.40" stroke="#000" stroke-width="0.7" />
<line x1="317.60" y1="685.44" x2="323.60" y2="685.44" stroke="#000" stroke-width="0.7" />
<circle cx="320.6" cy="669.6" r="0.95" />
<circle cx="320.6" cy="676.6" r="0.95" />
<circle cx="320.6" cy="690.6" r="0.95" />
<rect x="330.90" y="700.27" width="13.00" height="46.43" fill="#44ECB2" stroke="#111" stroke-width="0.5" />
<line x1="337.40" y1="697.10" x2="337.40" y2="703.03" stroke="#000" stroke-width="0.7" />
<line x1="334.40" y1="697.10" x2="340.40" y2="697.10" stroke="#000" stroke-width="0.7" />
<line x1="334.40" y1="703.03" x2="340.40" y2="703.03" stroke="#000" stroke-width="0.7" />
<circle cx="335.9" cy="695.7" r="0.95" />
<circle cx="338.9" cy="698.3" r="0.95" />
<circle cx="337.4" cy="705.8" r="0.95" />
<text x="317.60" y="760.80" font-size="8.4" font-weight="bold" text-anchor="middle" fill="#000" >CFTR</text>
<line x1="320.60" y1="746.70" x2="320.60" y2="750.30" stroke="#000" stroke-width="1.25" />
<rect x="354.60" y="707.38" width="13.00" height="39.32" fill="#333333" stroke="#111" stroke-width="0.5" />
<line x1="361.10" y1="701.65" x2="361.10" y2="712.71" stroke="#000" stroke-width="0.7" />
<line x1="358.10" y1="701.65" x2="364.10" y2="701.65" stroke="#000" stroke-width="0.7" />
<line x1="358.10" y1="712.71" x2="364.10" y2="712.71" stroke="#000" stroke-width="0.7" />
<circle cx="359.6" cy="701.6" r="0.95" />
<circle cx="362.6" cy="702.2" r="0.95" />
<circle cx="361.1" cy="715.1" r="0.95" />
<rect x="371.40" y="673.99" width="13.00" height="72.71" fill="#058208" stroke="#111" stroke-width="0.5" />
<line x1="377.90" y1="665.88" x2="377.90" y2="681.69" stroke="#000" stroke-width="0.7" />
<line x1="374.90" y1="665.88" x2="380.90" y2="665.88" stroke="#000" stroke-width="0.7" />
<line x1="374.90" y1="681.69" x2="380.90" y2="681.69" stroke="#000" stroke-width="0.7" />
<circle cx="377.9" cy="659.4" r="0.95" />
<circle cx="377.9" cy="676.6" r="0.95" />
<circle cx="377.9" cy="686.6" r="0.95" />
<rect x="388.20" y="689.40" width="13.00" height="57.30" fill="#44ECB2" stroke="#111" stroke-width="0.5" />
<line x1="394.70" y1="688.21" x2="394.70" y2="690.19" stroke="#000" stroke-width="0.7" />
<line x1="391.70" y1="688.21" x2="397.70" y2="688.21" stroke="#000" stroke-width="0.7" />
<line x1="391.70" y1="690.19" x2="397.70" y2="690.19" stroke="#000" stroke-width="0.7" />
<circle cx="392.9" cy="687.4" r="0.95" />
<circle cx="396.5" cy="688.4" r="0.95" />
<circle cx="394.7" cy="690.0" r="0.95" />
<text x="380.00" y="760.80" font-size="8.4" font-weight="bold" text-anchor="middle" fill="#000"  textLength="40.30" lengthAdjust="spacing">SLC26A3</text>
<line x1="377.70" y1="746.70" x2="377.70" y2="750.30" stroke="#000" stroke-width="1.25" />
<rect x="411.70" y="707.97" width="13.00" height="38.73" fill="#333333" stroke="#111" stroke-width="0.5" />
<line x1="418.20" y1="706.19" x2="418.20" y2="709.35" stroke="#000" stroke-width="0.7" />
<line x1="415.20" y1="706.19" x2="421.20" y2="706.19" stroke="#000" stroke-width="0.7" />
<line x1="415.20" y1="709.35" x2="421.20" y2="709.35" stroke="#000" stroke-width="0.7" />
<circle cx="418.2" cy="705.2" r="0.95" />
<circle cx="416.7" cy="708.2" r="0.95" />
<circle cx="419.7" cy="709.6" r="0.95" />
<rect x="428.50" y="702.84" width="13.00" height="43.86" fill="#058208" stroke="#111" stroke-width="0.5" />
<line x1="435.00" y1="701.05" x2="435.00" y2="704.22" stroke="#000" stroke-width="0.7" />
<line x1="432.00" y1="701.05" x2="438.00" y2="701.05" stroke="#000" stroke-width="0.7" />
<line x1="432.00" y1="704.22" x2="438.00" y2="704.22" stroke="#000" stroke-width="0.7" />
<circle cx="435.0" cy="699.7" r="0.95" />
<circle cx="433.5" cy="703.2" r="0.95" />
<circle cx="436.5" cy="704.8" r="0.95" />
<rect x="445.30" y="720.22" width="13.00" height="26.48" fill="#44ECB2" stroke="#111" stroke-width="0.5" />
<line x1="451.80" y1="714.10" x2="451.80" y2="725.95" stroke="#000" stroke-width="0.7" />
<line x1="448.80" y1="714.10" x2="454.80" y2="714.10" stroke="#000" stroke-width="0.7" />
<line x1="448.80" y1="725.95" x2="454.80" y2="725.95" stroke="#000" stroke-width="0.7" />
<circle cx="450.3" cy="713.5" r="0.95" />
<circle cx="453.3" cy="716.1" r="0.95" />
<circle cx="451.8" cy="730.9" r="0.95" />
<text x="436.80" y="760.80" font-size="8.4" font-weight="bold" text-anchor="middle" fill="#000"  textLength="39.60" lengthAdjust="spacing">SLC12A2</text>
<line x1="434.80" y1="746.70" x2="434.80" y2="750.30" stroke="#000" stroke-width="1.25" />
<line x1="288.70" y1="647.27" x2="288.70" y2="747.33" stroke="#000" stroke-width="1.25" />
<line x1="288.07" y1="746.70" x2="463.30" y2="746.70" stroke="#000" stroke-width="1.25" />
<line x1="285.50" y1="746.70" x2="288.70" y2="746.70" stroke="#000" stroke-width="1.25" />
<text x="284.00" y="749.58" font-size="8" font-weight="bold" text-anchor="end" fill="#000" >0</text>
<line x1="285.50" y1="726.94" x2="288.70" y2="726.94" stroke="#000" stroke-width="1.25" />
<text x="284.00" y="729.82" font-size="8" font-weight="bold" text-anchor="end" fill="#000" >1</text>
<line x1="285.50" y1="707.18" x2="288.70" y2="707.18" stroke="#000" stroke-width="1.25" />
<text x="284.00" y="710.06" font-size="8" font-weight="bold" text-anchor="end" fill="#000" >2</text>
<line x1="285.50" y1="687.42" x2="288.70" y2="687.42" stroke="#000" stroke-width="1.25" />
<text x="284.00" y="690.30" font-size="8" font-weight="bold" text-anchor="end" fill="#000" >3</text>
<line x1="285.50" y1="667.66" x2="288.70" y2="667.66" stroke="#000" stroke-width="1.25" />
<text x="284.00" y="670.54" font-size="8" font-weight="bold" text-anchor="end" fill="#000" >4</text>
<line x1="285.50" y1="647.90" x2="288.70" y2="647.90" stroke="#000" stroke-width="1.25" />
<text x="284.00" y="650.78" font-size="8" font-weight="bold" text-anchor="end" fill="#000" >5</text>
<text transform="translate(260.80,697.60) rotate(-90)" font-size="8.4" font-weight="bold" text-anchor="middle" fill="#000" textLength="118.20" lengthAdjust="spacing">Relative mRNA expression/</text>
<text transform="translate(272.60,697.60) rotate(-90)" font-size="8.4" font-weight="bold" text-anchor="middle" fill="#000" textLength="51.00" lengthAdjust="spacing">Hprt+Rplp0</text>
<text x="377.50" y="625.80" font-size="9.7" font-weight="bold" text-anchor="middle" fill="#000"  textLength="75.60" lengthAdjust="spacing">Inorganic solute</text>
<line x1="298.10" y1="632.80" x2="456.60" y2="632.80" stroke="#555" stroke-width="0.9" />
<polyline points="303.10,665.90 303.10,663.70 319.60,663.70 319.60,665.90" fill="none" stroke="#000" stroke-width="0.85"/>
<text x="311.95" y="664.10" font-size="12" font-weight="bold" text-anchor="middle" fill="#000"  letter-spacing="0.9">*</text>
<polyline points="321.60,665.90 321.60,663.70 337.40,663.70 337.40,665.90" fill="none" stroke="#000" stroke-width="0.85"/>
<text x="329.45" y="664.10" font-size="12" font-weight="bold" text-anchor="middle" fill="#000"  letter-spacing="0.9">*</text>
<polyline points="360.90,655.20 360.90,653.00 377.70,653.00 377.70,655.20" fill="none" stroke="#000" stroke-width="0.85"/>
<text x="369.05" y="653.40" font-size="12" font-weight="bold" text-anchor="middle" fill="#000"  letter-spacing="0.9">**</text>
<polyline points="434.80,694.50 434.80,692.30 452.20,692.30 452.20,694.50" fill="none" stroke="#000" stroke-width="0.85"/>
<text x="444.25" y="692.70" font-size="12" font-weight="bold" text-anchor="middle" fill="#000"  letter-spacing="0.9">*</text>
<rect x="550.90" y="712.73" width="14.70" height="33.67" fill="#333333" stroke="#111" stroke-width="0.5" />
<line x1="558.25" y1="706.83" x2="558.25" y2="718.23" stroke="#000" stroke-width="0.7" />
<line x1="555.25" y1="706.83" x2="561.25" y2="706.83" stroke="#000" stroke-width="0.7" />
<line x1="555.25" y1="718.23" x2="561.25" y2="718.23" stroke="#000" stroke-width="0.7" />
<circle cx="558.2" cy="702.1" r="0.95" />
<circle cx="558.2" cy="717.9" r="0.95" />
<circle cx="558.2" cy="715.5" r="0.95" />
<rect x="569.40" y="686.24" width="14.70" height="60.16" fill="#058208" stroke="#111" stroke-width="0.5" />
<line x1="576.75" y1="683.69" x2="576.75" y2="688.39" stroke="#000" stroke-width="0.7" />
<line x1="573.75" y1="683.69" x2="579.75" y2="683.69" stroke="#000" stroke-width="0.7" />
<line x1="573.75" y1="688.39" x2="579.75" y2="688.39" stroke="#000" stroke-width="0.7" />
<circle cx="576.8" cy="682.7" r="0.95" />
<circle cx="575.2" cy="686.0" r="0.95" />
<circle cx="578.2" cy="688.7" r="0.95" />
<rect x="587.90" y="701.67" width="14.70" height="44.73" fill="#44ECB2" stroke="#111" stroke-width="0.5" />
<line x1="595.25" y1="698.11" x2="595.25" y2="704.82" stroke="#000" stroke-width="0.7" />
<line x1="592.25" y1="698.11" x2="598.25" y2="698.11" stroke="#000" stroke-width="0.7" />
<line x1="592.25" y1="704.82" x2="598.25" y2="704.82" stroke="#000" stroke-width="0.7" />
<circle cx="595.2" cy="695.1" r="0.95" />
<circle cx="593.8" cy="702.8" r="0.95" />
<circle cx="596.8" cy="705.5" r="0.95" />
<text x="577.20" y="760.80" font-size="8.4" font-weight="bold" text-anchor="middle" fill="#000"  textLength="29.50" lengthAdjust="spacing">CLDN1</text>
<line x1="576.60" y1="746.40" x2="576.60" y2="750.00" stroke="#000" stroke-width="1.25" />
<rect x="613.80" y="712.40" width="14.70" height="34.00" fill="#333333" stroke="#111" stroke-width="0.5" />
<line x1="621.15" y1="706.50" x2="621.15" y2="717.90" stroke="#000" stroke-width="0.7" />
<line x1="618.15" y1="706.50" x2="624.15" y2="706.50" stroke="#000" stroke-width="0.7" />
<line x1="618.15" y1="717.90" x2="624.15" y2="717.90" stroke="#000" stroke-width="0.7" />
<circle cx="621.1" cy="702.8" r="0.95" />
<circle cx="621.1" cy="712.9" r="0.95" />
<circle cx="621.1" cy="721.2" r="0.95" />
<rect x="632.30" y="668.47" width="14.70" height="77.93" fill="#058208" stroke="#111" stroke-width="0.5" />
<line x1="639.65" y1="664.91" x2="639.65" y2="671.62" stroke="#000" stroke-width="0.7" />
<line x1="636.65" y1="664.91" x2="642.65" y2="664.91" stroke="#000" stroke-width="0.7" />
<line x1="636.65" y1="671.62" x2="642.65" y2="671.62" stroke="#000" stroke-width="0.7" />
<circle cx="639.6" cy="664.2" r="0.95" />
<circle cx="638.1" cy="667.6" r="0.95" />
<circle cx="640.6" cy="673.3" r="0.95" />
<rect x="650.80" y="692.28" width="14.70" height="54.12" fill="#44ECB2" stroke="#111" stroke-width="0.5" />
<line x1="658.15" y1="684.70" x2="658.15" y2="699.45" stroke="#000" stroke-width="0.7" />
<line x1="655.15" y1="684.70" x2="661.15" y2="684.70" stroke="#000" stroke-width="0.7" />
<line x1="655.15" y1="699.45" x2="661.15" y2="699.45" stroke="#000" stroke-width="0.7" />
<circle cx="658.1" cy="680.0" r="0.95" />
<circle cx="658.1" cy="691.1" r="0.95" />
<circle cx="658.1" cy="704.5" r="0.95" />
<text x="639.70" y="760.80" font-size="8.4" font-weight="bold" text-anchor="middle" fill="#000" >ZO-1</text>
<line x1="639.70" y1="746.40" x2="639.70" y2="750.00" stroke="#000" stroke-width="1.25" />
<line x1="543.30" y1="645.17" x2="543.30" y2="747.02" stroke="#000" stroke-width="1.25" />
<line x1="542.67" y1="746.40" x2="671.60" y2="746.40" stroke="#000" stroke-width="1.25" />
<line x1="540.10" y1="746.40" x2="543.30" y2="746.40" stroke="#000" stroke-width="1.25" />
<text x="538.60" y="749.28" font-size="8" font-weight="bold" text-anchor="end" fill="#000" >0</text>
<line x1="540.10" y1="712.87" x2="543.30" y2="712.87" stroke="#000" stroke-width="1.25" />
<text x="538.60" y="715.75" font-size="8" font-weight="bold" text-anchor="end" fill="#000" >1</text>
<line x1="540.10" y1="679.33" x2="543.30" y2="679.33" stroke="#000" stroke-width="1.25" />
<text x="538.60" y="682.21" font-size="8" font-weight="bold" text-anchor="end" fill="#000" >2</text>
<line x1="540.10" y1="645.80" x2="543.30" y2="645.80" stroke="#000" stroke-width="1.25" />
<text x="538.60" y="648.68" font-size="8" font-weight="bold" text-anchor="end" fill="#000" >3</text>
<text transform="translate(515.40,697.00) rotate(-90)" font-size="8.4" font-weight="bold" text-anchor="middle" fill="#000" textLength="117.50" lengthAdjust="spacing">Relative mRNA expression/</text>
<text transform="translate(527.20,697.00) rotate(-90)" font-size="8.4" font-weight="bold" text-anchor="middle" fill="#000" textLength="50.40" lengthAdjust="spacing">Hprt+Rplp0</text>
<text x="608.30" y="625.80" font-size="9.7" font-weight="bold" text-anchor="middle" fill="#000"  textLength="58.10" lengthAdjust="spacing">Cell junction</text>
<line x1="548.40" y1="632.80" x2="667.60" y2="632.80" stroke="#555" stroke-width="0.9" />
<polyline points="558.10,678.70 558.10,676.50 575.90,676.50 575.90,678.70" fill="none" stroke="#000" stroke-width="0.85"/>
<text x="567.25" y="676.90" font-size="12" font-weight="bold" text-anchor="middle" fill="#000"  letter-spacing="0.9">**</text>
<polyline points="577.60,678.70 577.60,676.50 593.70,676.50 593.70,678.70" fill="none" stroke="#000" stroke-width="0.85"/>
<text x="585.75" y="676.90" font-size="12" font-weight="bold" text-anchor="middle" fill="#000"  letter-spacing="0.9">*</text>
<polyline points="621.20,661.60 621.20,659.40 638.70,659.40 638.70,661.60" fill="none" stroke="#000" stroke-width="0.85"/>
<text x="630.05" y="659.80" font-size="12" font-weight="bold" text-anchor="middle" fill="#000"  letter-spacing="0.9">**</text>
<polyline points="640.40,661.60 640.40,659.40 656.50,659.40 656.50,661.60" fill="none" stroke="#000" stroke-width="0.85"/>
<text x="648.55" y="659.80" font-size="12" font-weight="bold" text-anchor="middle" fill="#000"  letter-spacing="0.9">*</text>
<text x="1.80" y="804.80" font-size="17.5" font-weight="bold" text-anchor="start" fill="#000" >f</text>
<defs>
<filter id="bl" x="-20%" y="-20%" width="140%" height="140%"><feGaussianBlur stdDeviation="0.5"/></filter>
<filter id="bl2" x="-20%" y="-20%" width="140%" height="140%"><feGaussianBlur stdDeviation="0.3"/></filter>
<filter id="bl3" x="-20%" y="-20%" width="140%" height="140%"><feGaussianBlur stdDeviation="1.2"/></filter>
<filter id="tx" x="-10%" y="-10%" width="120%" height="120%" color-interpolation-filters="sRGB"><feTurbulence type="fractalNoise" baseFrequency="0.42" numOctaves="2" seed="4" result="n"/><feColorMatrix in="n" values="0 0 0 0 0.09  0 0 0 0 0.09  0 0 0 0 0.97  2.2 2.2 0 3.2 -3.55" result="c"/><feGaussianBlur in="SourceGraphic" stdDeviation="0.8" result="s"/><feComposite in="c" in2="s" operator="in"/><feGaussianBlur stdDeviation="0.28"/></filter>
<filter id="tx2" x="-10%" y="-10%" width="120%" height="120%" color-interpolation-filters="sRGB"><feTurbulence type="fractalNoise" baseFrequency="0.36" numOctaves="2" seed="9" result="n"/><feColorMatrix in="n" values="0 0 0 0 0.09  0 0 0 0 0.09  0 0 0 0 0.97  2.2 2.2 0 3.2 -3.35" result="c"/><feGaussianBlur in="SourceGraphic" stdDeviation="0.8" result="s"/><feComposite in="c" in2="s" operator="in"/><feGaussianBlur stdDeviation="0.28"/></filter>
</defs>
<rect x="33.20" y="803.70" width="53.60" height="13.10" fill="#fff" stroke="#111" stroke-width="0.9" />
<text x="60.00" y="813.20" font-size="8.6" font-weight="bold" text-anchor="middle" fill="#1E7FD0"  textLength="21.60" lengthAdjust="spacing">DAPI</text>
<rect x="88.90" y="803.70" width="53.70" height="13.10" fill="#fff" stroke="#111" stroke-width="0.9" />
<text x="115.75" y="813.20" font-size="8.6" font-weight="bold" text-anchor="middle" fill="#D0202A"  textLength="17.80" lengthAdjust="spacing">EdU</text>
<rect x="144.70" y="803.70" width="54.00" height="13.10" fill="#fff" stroke="#111" stroke-width="0.9" />
<text x="171.70" y="813.20" font-size="8.6" font-weight="bold" text-anchor="middle" fill="#000"  textLength="31.30" lengthAdjust="spacing">Merged</text>
<rect x="7.20" y="818.60" width="21.40" height="54.00" fill="#fff" stroke="#111" stroke-width="1.0" />
<rect x="7.20" y="877.40" width="21.40" height="55.20" fill="#fff" stroke="#111" stroke-width="1.0" />
<rect x="7.20" y="937.40" width="21.40" height="55.00" fill="#fff" stroke="#111" stroke-width="1.0" />
<text transform="translate(21.30,846.50) rotate(-90)" font-size="8.6" font-weight="bold" text-anchor="middle" fill="#000" textLength="10.80" lengthAdjust="spacing">NT</text>
<text transform="translate(21.80,905.60) rotate(-90)" font-size="8.6" font-weight="bold" text-anchor="middle" fill="#000" textLength="52.20" lengthAdjust="spacing">TGFβ1+FGF2</text>
<text transform="translate(16.80,965.80) rotate(-90)" font-size="8.6" font-weight="bold" text-anchor="middle" fill="#000" textLength="53.00" lengthAdjust="spacing">TGFβ1+FGF2</text>
<text transform="translate(27.20,965.40) rotate(-90)" font-size="8.6" font-weight="bold" text-anchor="middle" fill="#000" textLength="39.60" lengthAdjust="spacing">+CFTRinh</text>
<rect x="32.80" y="819.00" width="166.50" height="53.30" fill="#000012" />
<rect x="88.00" y="819.00" width="55.50" height="53.30" fill="#030000" />
<rect x="32.80" y="878.60" width="166.50" height="54.00" fill="#000012" />
<rect x="88.00" y="878.60" width="55.50" height="54.00" fill="#030000" />
<rect x="32.80" y="938.80" width="166.50" height="55.20" fill="#000012" />
<rect x="88.00" y="938.80" width="55.50" height="55.20" fill="#030000" />
<clipPath id="cr1"><rect x="32.8" y="819" width="166.5" height="53.3"/></clipPath>
<clipPath id="cr2"><rect x="32.8" y="878.6" width="166.5" height="54"/></clipPath>
<clipPath id="cr3"><rect x="32.8" y="938.8" width="166.5" height="55.2"/></clipPath>
<g clip-path="url(#cr1)">
<ellipse cx="61.6" cy="842.7" rx="15.2" ry="14.8" fill="#0A0A78" opacity="0.45" filter="url(#bl)"/>
<ellipse cx="61.6" cy="842.7" rx="14.7" ry="14.3" fill="#fff" filter="url(#tx)"/>
<ellipse cx="172.1" cy="842.7" rx="15.2" ry="14.8" fill="#12087A" opacity="0.45" filter="url(#bl)"/>
<ellipse cx="172.1" cy="842.7" rx="14.7" ry="14.3" fill="#fff" filter="url(#tx)"/>
<circle cx="116.5" cy="842.7" r="15.3" fill="#160000" opacity="0.7" filter="url(#bl)"/>
</g>
<g filter="url(#bl2)" clip-path="url(#cr1)">
<circle cx="118.6" cy="830.2" r="0.95" fill="#E01818" />
<circle cx="104.8" cy="840.2" r="1.05" fill="#E01818" />
<circle cx="112.2" cy="852.8" r="0.90" fill="#E01818" />
<circle cx="121.0" cy="836.0" r="0.35" fill="#E01818" />
<circle cx="115.0" cy="845.0" r="0.35" fill="#E01818" />
<circle cx="124.0" cy="848.0" r="0.35" fill="#E01818" />
<circle cx="110.0" cy="834.0" r="0.30" fill="#E01818" />
</g>
<g filter="url(#bl2)" clip-path="url(#cr1)">
<circle cx="173.6" cy="830.2" r="0.85" fill="#E828B8" />
<circle cx="159.8" cy="840.2" r="0.95" fill="#E828B8" />
<circle cx="167.2" cy="852.8" r="0.81" fill="#E828B8" />
</g>
<g clip-path="url(#cr2)">
<ellipse cx="63.9" cy="900.6" rx="20.8" ry="20.0" fill="#0A0A78" opacity="0.6" filter="url(#bl)"/>
<ellipse cx="63.9" cy="900.6" rx="20.3" ry="19.5" fill="#fff" filter="url(#tx2)"/>
<ellipse cx="174.4" cy="900.6" rx="20.8" ry="20.0" fill="#12087A" opacity="0.6" filter="url(#bl)"/>
<ellipse cx="174.4" cy="900.6" rx="20.3" ry="19.5" fill="#fff" filter="url(#tx2)"/>
<circle cx="118.5" cy="900.6" r="20" fill="#140000" opacity="0.5" filter="url(#bl)"/>
<circle cx="87.5" cy="883" r="2.4" fill="#1414C8" opacity="0.6" filter="url(#bl)"/>
<circle cx="198.8" cy="883" r="2.4" fill="#1414C8" opacity="0.6" filter="url(#bl)"/>
</g>
<g filter="url(#bl2)" clip-path="url(#cr2)">
<circle cx="105.9" cy="902.7" r="0.73" fill="#E01818" />
<circle cx="125.9" cy="900.5" r="0.34" fill="#E01818" />
<circle cx="103.7" cy="895.0" r="0.49" fill="#E01818" />
<circle cx="111.0" cy="887.8" r="0.38" fill="#E01818" />
<circle cx="115.4" cy="906.3" r="0.76" fill="#E01818" />
<circle cx="102.7" cy="891.0" r="0.67" fill="#E01818" />
<circle cx="121.9" cy="906.1" r="0.66" fill="#E01818" />
<circle cx="111.2" cy="902.7" r="0.40" fill="#E01818" />
<circle cx="112.9" cy="916.8" r="0.74" fill="#E01818" />
<circle cx="118.3" cy="896.9" r="0.55" fill="#E01818" />
<circle cx="124.8" cy="901.8" r="0.36" fill="#E01818" />
<circle cx="109.9" cy="896.2" r="0.75" fill="#E01818" />
<circle cx="116.7" cy="901.7" r="0.57" fill="#E01818" />
<circle cx="120.0" cy="900.6" r="0.76" fill="#E01818" />
<circle cx="105.1" cy="905.8" r="0.35" fill="#E01818" />
<circle cx="108.4" cy="896.2" r="0.78" fill="#E01818" />
<circle cx="126.7" cy="904.7" r="0.37" fill="#E01818" />
<circle cx="111.5" cy="918.8" r="0.36" fill="#E01818" />
<circle cx="111.2" cy="882.2" r="0.61" fill="#E01818" />
<circle cx="124.4" cy="903.1" r="0.60" fill="#E01818" />
<circle cx="116.2" cy="894.5" r="0.73" fill="#E01818" />
<circle cx="105.4" cy="893.6" r="0.79" fill="#E01818" />
<circle cx="112.0" cy="898.8" r="0.46" fill="#E01818" />
<circle cx="107.9" cy="903.6" r="0.46" fill="#E01818" />
<circle cx="127.7" cy="908.0" r="0.69" fill="#E01818" />
<circle cx="129.0" cy="902.7" r="0.55" fill="#E01818" />
<circle cx="112.1" cy="890.8" r="0.51" fill="#E01818" />
<circle cx="117.3" cy="918.5" r="0.49" fill="#E01818" />
<circle cx="121.1" cy="891.1" r="0.39" fill="#E01818" />
<circle cx="121.2" cy="891.9" r="0.79" fill="#E01818" />
<circle cx="121.3" cy="916.4" r="0.60" fill="#E01818" />
<circle cx="120.1" cy="900.3" r="0.49" fill="#E01818" />
<circle cx="102.6" cy="888.0" r="0.37" fill="#E01818" />
<circle cx="110.4" cy="897.3" r="0.58" fill="#E01818" />
<circle cx="113.7" cy="895.4" r="0.65" fill="#E01818" />
<circle cx="114.8" cy="888.3" r="0.38" fill="#E01818" />
<circle cx="110.6" cy="883.7" r="0.55" fill="#E01818" />
<circle cx="118.0" cy="902.4" r="0.39" fill="#E01818" />
<circle cx="110.8" cy="896.0" r="0.41" fill="#E01818" />
<circle cx="122.3" cy="900.7" r="0.58" fill="#E01818" />
</g>
<g filter="url(#bl2)" clip-path="url(#cr2)">
<circle cx="161.2" cy="902.7" r="0.73" fill="#E828B8" />
<circle cx="159.0" cy="895.0" r="0.49" fill="#E828B8" />
<circle cx="166.3" cy="887.8" r="0.38" fill="#E828B8" />
<circle cx="170.7" cy="906.3" r="0.76" fill="#E828B8" />
<circle cx="157.9" cy="891.0" r="0.67" fill="#E828B8" />
<circle cx="166.5" cy="902.7" r="0.40" fill="#E828B8" />
<circle cx="168.2" cy="916.8" r="0.74" fill="#E828B8" />
<circle cx="173.5" cy="896.9" r="0.55" fill="#E828B8" />
<circle cx="165.1" cy="896.2" r="0.75" fill="#E828B8" />
<circle cx="172.0" cy="901.7" r="0.57" fill="#E828B8" />
<circle cx="175.2" cy="900.6" r="0.76" fill="#E828B8" />
<circle cx="160.4" cy="905.8" r="0.35" fill="#E828B8" />
<circle cx="163.7" cy="896.2" r="0.78" fill="#E828B8" />
<circle cx="166.8" cy="918.8" r="0.36" fill="#E828B8" />
<circle cx="166.4" cy="882.2" r="0.61" fill="#E828B8" />
<circle cx="171.5" cy="894.5" r="0.73" fill="#E828B8" />
<circle cx="160.6" cy="893.6" r="0.79" fill="#E828B8" />
<circle cx="167.3" cy="898.8" r="0.46" fill="#E828B8" />
<circle cx="163.2" cy="903.6" r="0.46" fill="#E828B8" />
<circle cx="167.4" cy="890.8" r="0.51" fill="#E828B8" />
<circle cx="172.6" cy="918.5" r="0.49" fill="#E828B8" />
<circle cx="157.8" cy="888.0" r="0.37" fill="#E828B8" />
<circle cx="165.6" cy="897.3" r="0.58" fill="#E828B8" />
<circle cx="168.9" cy="895.4" r="0.65" fill="#E828B8" />
<circle cx="170.0" cy="888.3" r="0.38" fill="#E828B8" />
<circle cx="165.9" cy="883.7" r="0.55" fill="#E828B8" />
<circle cx="173.2" cy="902.4" r="0.39" fill="#E828B8" />
<circle cx="166.0" cy="896.0" r="0.41" fill="#E828B8" />
</g>
<g clip-path="url(#cr3)">
<ellipse cx="59.8" cy="963" rx="13.6" ry="17" fill="#05054A" opacity="0.8" filter="url(#bl)"/>
<ellipse cx="59.8" cy="963" rx="12" ry="15.6" fill="none" stroke="#fff" stroke-width="3.4" filter="url(#tx)"/>
<path d="M47.5 968 Q52.0 981 62.0 980 Q70.0 978 72.0 968" fill="none" stroke="#fff" stroke-width="4.6" filter="url(#tx2)"/>
<ellipse cx="170.3" cy="963" rx="13.6" ry="17" fill="#05054A" opacity="0.8" filter="url(#bl)"/>
<ellipse cx="170.3" cy="963" rx="12" ry="15.6" fill="none" stroke="#fff" stroke-width="3.4" filter="url(#tx)"/>
<path d="M158.0 968 Q162.5 981 172.5 980 Q180.5 978 182.5 968" fill="none" stroke="#fff" stroke-width="4.6" filter="url(#tx2)"/>
</g>
<g filter="url(#bl2)" clip-path="url(#cr3)">
<circle cx="110.5" cy="946.5" r="0.70" fill="#E01818" />
<circle cx="126.5" cy="958.0" r="0.50" fill="#E01818" />
<circle cx="127.0" cy="970.5" r="0.50" fill="#E01818" />
<circle cx="123.5" cy="974.0" r="0.60" fill="#E01818" />
</g>
<g filter="url(#bl2)" clip-path="url(#cr3)">
<circle cx="165.8" cy="946.5" r="0.70" fill="#E828B8" />
<circle cx="181.8" cy="958.0" r="0.50" fill="#E828B8" />
<circle cx="182.2" cy="970.5" r="0.50" fill="#E828B8" />
<circle cx="178.8" cy="974.0" r="0.60" fill="#E828B8" />
</g>
<line x1="180.00" y1="868.20" x2="193.40" y2="868.20" stroke="#e8e8e8" stroke-width="1.0" />
<line x1="180.00" y1="928.60" x2="193.40" y2="928.60" stroke="#e8e8e8" stroke-width="1.0" />
<line x1="180.00" y1="990.60" x2="193.40" y2="990.60" stroke="#e8e8e8" stroke-width="1.0" />
<rect x="249.90" y="932.76" width="24.30" height="9.74" fill="#333333" stroke="#111" stroke-width="0.5" />
<line x1="262.05" y1="929.58" x2="262.05" y2="935.54" stroke="#000" stroke-width="0.7" />
<line x1="256.05" y1="929.58" x2="268.05" y2="929.58" stroke="#000" stroke-width="0.7" />
<line x1="256.05" y1="935.54" x2="268.05" y2="935.54" stroke="#000" stroke-width="0.7" />
<circle cx="262.1" cy="913.5" r="0.95" />
<circle cx="262.1" cy="924.1" r="0.95" />
<circle cx="259.1" cy="931.7" r="0.95" />
<circle cx="264.1" cy="932.6" r="0.95" />
<circle cx="261.1" cy="934.2" r="0.95" />
<circle cx="258.1" cy="935.9" r="0.95" />
<circle cx="263.1" cy="936.7" r="0.95" />
<circle cx="260.1" cy="938.4" r="0.95" />
<circle cx="265.1" cy="939.2" r="0.95" />
<circle cx="267.1" cy="940.0" r="0.95" />
<circle cx="257.1" cy="937.5" r="0.95" />
<text x="260.93" y="957.10" font-size="8.8" font-weight="bold" text-anchor="middle" fill="#000"  letter-spacing="0.25">NT</text>
<line x1="262.00" y1="942.50" x2="262.00" y2="946.10" stroke="#000" stroke-width="1.25" />
<rect x="282.00" y="892.67" width="24.30" height="49.83" fill="#058208" stroke="#111" stroke-width="0.5" />
<line x1="294.15" y1="886.34" x2="294.15" y2="898.60" stroke="#000" stroke-width="0.7" />
<line x1="288.15" y1="886.34" x2="300.15" y2="886.34" stroke="#000" stroke-width="0.7" />
<line x1="288.15" y1="898.60" x2="300.15" y2="898.60" stroke="#000" stroke-width="0.7" />
<circle cx="294.2" cy="859.0" r="0.95" />
<circle cx="294.2" cy="872.1" r="0.95" />
<circle cx="294.2" cy="878.1" r="0.95" />
<circle cx="294.2" cy="885.8" r="0.95" />
<circle cx="295.0" cy="895.8" r="0.95" />
<circle cx="293.0" cy="897.8" r="0.95" />
<circle cx="294.2" cy="899.1" r="0.95" />
<circle cx="295.4" cy="901.7" r="0.95" />
<circle cx="294.2" cy="910.4" r="0.95" />
<circle cx="294.2" cy="924.4" r="0.95" />
<text x="292.02" y="957.10" font-size="8.8" font-weight="bold" text-anchor="middle" fill="#000"  letter-spacing="0.25">TGFβ1+</text>
<text x="292.02" y="968.35" font-size="8.8" font-weight="bold" text-anchor="middle" fill="#000"  letter-spacing="0.25">FGF2</text>
<line x1="294.20" y1="942.50" x2="294.20" y2="946.10" stroke="#000" stroke-width="1.25" />
<rect x="313.70" y="922.82" width="24.30" height="19.68" fill="#44ECB2" stroke="#111" stroke-width="0.5" />
<line x1="325.85" y1="917.65" x2="325.85" y2="927.59" stroke="#000" stroke-width="0.7" />
<line x1="319.85" y1="917.65" x2="331.85" y2="917.65" stroke="#000" stroke-width="0.7" />
<line x1="319.85" y1="927.59" x2="331.85" y2="927.59" stroke="#000" stroke-width="0.7" />
<circle cx="326.4" cy="899.3" r="0.95" />
<circle cx="324.6" cy="911.5" r="0.95" />
<circle cx="327.4" cy="911.5" r="0.95" />
<circle cx="327.4" cy="914.3" r="0.95" />
<circle cx="324.9" cy="914.3" r="0.95" />
<circle cx="325.9" cy="919.3" r="0.95" />
<circle cx="322.4" cy="937.5" r="0.95" />
<circle cx="324.4" cy="938.7" r="0.95" />
<circle cx="326.4" cy="939.5" r="0.95" />
<circle cx="328.4" cy="939.8" r="0.95" />
<circle cx="330.4" cy="939.8" r="0.95" />
<text x="329.02" y="957.10" font-size="8.8" font-weight="bold" text-anchor="middle" fill="#000"  letter-spacing="0.25">TGFβ1+</text>
<text x="329.02" y="968.35" font-size="8.8" font-weight="bold" text-anchor="middle" fill="#000"  letter-spacing="0.25">FGF2+</text>
<text x="329.02" y="979.60" font-size="8.8" font-weight="bold" text-anchor="middle" fill="#000"  letter-spacing="0.25">CFTRinh</text>
<line x1="326.00" y1="942.50" x2="326.00" y2="946.10" stroke="#000" stroke-width="1.25" />
<line x1="237.50" y1="842.48" x2="237.50" y2="943.12" stroke="#000" stroke-width="1.25" />
<line x1="236.88" y1="942.50" x2="351.80" y2="942.50" stroke="#000" stroke-width="1.25" />
<line x1="232.90" y1="942.50" x2="237.50" y2="942.50" stroke="#000" stroke-width="1.25" />
<text x="231.30" y="945.49" font-size="8.3" font-weight="bold" text-anchor="end" fill="#000" >0</text>
<line x1="232.90" y1="909.37" x2="237.50" y2="909.37" stroke="#000" stroke-width="1.25" />
<text x="231.30" y="912.35" font-size="8.3" font-weight="bold" text-anchor="end" fill="#000" >20</text>
<line x1="232.90" y1="876.23" x2="237.50" y2="876.23" stroke="#000" stroke-width="1.25" />
<text x="231.30" y="879.22" font-size="8.3" font-weight="bold" text-anchor="end" fill="#000" >40</text>
<line x1="232.90" y1="843.10" x2="237.50" y2="843.10" stroke="#000" stroke-width="1.25" />
<text x="231.30" y="846.09" font-size="8.3" font-weight="bold" text-anchor="end" fill="#000" >60</text>
<text transform="translate(214.80,898.30) rotate(-90)" font-size="8.8" font-weight="bold" text-anchor="middle" fill="#000" textLength="131.30" lengthAdjust="spacing">Relative EdU positive cells (%)</text>
<polyline points="252.90,851.80 252.90,848.20 292.50,848.20 292.50,851.80" fill="none" stroke="#000" stroke-width="0.9"/>
<text x="273.15" y="849.20" font-size="11.5" font-weight="bold" text-anchor="middle" fill="#000"  letter-spacing="0.3">***</text>
<polyline points="297.40,851.80 297.40,848.20 336.10,848.20 336.10,851.80" fill="none" stroke="#000" stroke-width="0.9"/>
<text x="316.55" y="849.20" font-size="11.5" font-weight="bold" text-anchor="middle" fill="#000"  letter-spacing="0.3">***</text>
</svg></body></html>
